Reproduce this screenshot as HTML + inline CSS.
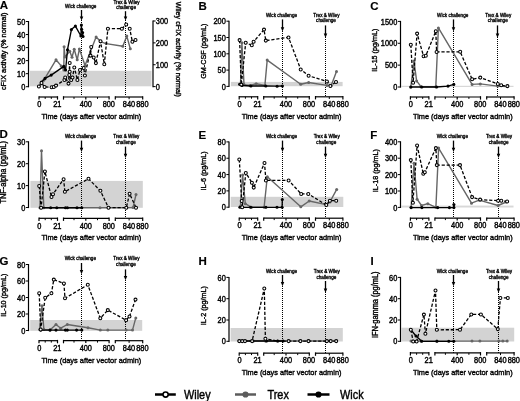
<!DOCTYPE html><html><head><meta charset="utf-8"><style>html,body{margin:0;padding:0;background:#fff;}svg{display:block;will-change:transform;}text{font-family:"Liberation Sans", sans-serif;stroke:#000;stroke-width:0.36px;paint-order:normal;}</style></head><body>
<svg width="520" height="401" viewBox="0 0 520 401">
<rect width="520" height="401" fill="#fff"/>
<rect x="29.9" y="70.8" width="121.6" height="15.5" fill="#d3d3d3"/>
<text transform="translate(80.7 6.6) scale(1 1.1)" font-size="4.65" text-anchor="middle" font-weight="normal" fill="#000" dominant-baseline="central" style="stroke-width:0.3px">Wick challenge</text>
<text transform="translate(126.5 2.1) scale(1 1.1)" font-size="4.65" text-anchor="middle" font-weight="normal" fill="#000" dominant-baseline="central" style="stroke-width:0.3px">Trex &amp; Wiley</text>
<text transform="translate(126.1 7.9) scale(1 1.1)" font-size="4.65" text-anchor="middle" font-weight="normal" fill="#000" dominant-baseline="central" style="stroke-width:0.3px">challenge</text>
<line x1="81.5" y1="10" x2="81.5" y2="17.6" stroke="#000" stroke-width="1.3"/>
<polygon points="79.75,16.4 83.25,16.4 81.5,20.6" fill="#000"/>
<line x1="125.5" y1="11.2" x2="125.5" y2="17.6" stroke="#000" stroke-width="1.3"/>
<polygon points="123.75,16.4 127.25,16.4 125.5,20.6" fill="#000"/>
<line x1="81.5" y1="20" x2="81.5" y2="96" stroke="#000" stroke-width="1" stroke-dasharray="1 1"/>
<line x1="125.5" y1="20" x2="125.5" y2="96" stroke="#000" stroke-width="1" stroke-dasharray="1 1"/>
<polyline points="43.7,80.3 56,59.8 61.2,65.9 63.8,70 64.1,46.7 65,57 69.7,51.2 72,57.2 74.2,49.3 77.2,59.8 79.4,49 85,65.5 96.1,37.1 100.9,41.8 106.2,43.6 122.8,46.2 126.8,36.1 130.3,48.8" fill="none" stroke="#666666" stroke-width="1.4" stroke-linejoin="round"/>
<circle cx="43.7" cy="80.3" r="1.5" fill="#666666" stroke="none" stroke-width="0"/>
<circle cx="56" cy="59.8" r="1.5" fill="#666666" stroke="none" stroke-width="0"/>
<circle cx="61.2" cy="65.9" r="1.5" fill="#666666" stroke="none" stroke-width="0"/>
<circle cx="63.8" cy="70" r="1.5" fill="#666666" stroke="none" stroke-width="0"/>
<circle cx="64.1" cy="46.7" r="1.5" fill="#666666" stroke="none" stroke-width="0"/>
<circle cx="65" cy="57" r="1.5" fill="#666666" stroke="none" stroke-width="0"/>
<circle cx="69.7" cy="51.2" r="1.5" fill="#666666" stroke="none" stroke-width="0"/>
<circle cx="72" cy="57.2" r="1.5" fill="#666666" stroke="none" stroke-width="0"/>
<circle cx="74.2" cy="49.3" r="1.5" fill="#666666" stroke="none" stroke-width="0"/>
<circle cx="77.2" cy="59.8" r="1.5" fill="#666666" stroke="none" stroke-width="0"/>
<circle cx="79.4" cy="49" r="1.5" fill="#666666" stroke="none" stroke-width="0"/>
<circle cx="85" cy="65.5" r="1.5" fill="#666666" stroke="none" stroke-width="0"/>
<circle cx="96.1" cy="37.1" r="1.5" fill="#666666" stroke="none" stroke-width="0"/>
<circle cx="100.9" cy="41.8" r="1.5" fill="#666666" stroke="none" stroke-width="0"/>
<circle cx="106.2" cy="43.6" r="1.5" fill="#666666" stroke="none" stroke-width="0"/>
<circle cx="122.8" cy="46.2" r="1.5" fill="#666666" stroke="none" stroke-width="0"/>
<circle cx="126.8" cy="36.1" r="1.5" fill="#666666" stroke="none" stroke-width="0"/>
<circle cx="130.3" cy="48.8" r="1.5" fill="#666666" stroke="none" stroke-width="0"/>
<polyline points="41.5,82.1 45,78.4 51.2,75.1 63.8,66.4 65.6,70 67.5,49.7 71.4,29.6 75.4,26.1 80.9,36 81.4,25.1 81.6,29.2 82.6,32.6 83,36.5 81.5,35.5" fill="none" stroke="#000" stroke-width="1.35" stroke-linejoin="round"/>
<circle cx="41.5" cy="82.1" r="1.55" fill="#000" stroke="none" stroke-width="0"/>
<circle cx="45" cy="78.4" r="1.55" fill="#000" stroke="none" stroke-width="0"/>
<circle cx="51.2" cy="75.1" r="1.55" fill="#000" stroke="none" stroke-width="0"/>
<circle cx="63.8" cy="66.4" r="1.55" fill="#000" stroke="none" stroke-width="0"/>
<circle cx="65.6" cy="70" r="1.55" fill="#000" stroke="none" stroke-width="0"/>
<circle cx="67.5" cy="49.7" r="1.55" fill="#000" stroke="none" stroke-width="0"/>
<circle cx="71.4" cy="29.6" r="1.55" fill="#000" stroke="none" stroke-width="0"/>
<circle cx="75.4" cy="26.1" r="1.55" fill="#000" stroke="none" stroke-width="0"/>
<circle cx="80.9" cy="36" r="1.55" fill="#000" stroke="none" stroke-width="0"/>
<circle cx="81.4" cy="25.1" r="1.55" fill="#000" stroke="none" stroke-width="0"/>
<circle cx="81.6" cy="29.2" r="1.55" fill="#000" stroke="none" stroke-width="0"/>
<circle cx="82.6" cy="32.6" r="1.55" fill="#000" stroke="none" stroke-width="0"/>
<circle cx="83" cy="36.5" r="1.55" fill="#000" stroke="none" stroke-width="0"/>
<circle cx="81.5" cy="35.5" r="1.55" fill="#000" stroke="none" stroke-width="0"/>
<polyline points="38.9,86.4 41.5,83 44.6,86.9 51.6,87.3 53.8,86.9 56,85.6 64.4,79.9 65.2,77.4 68.5,83.6 69.7,63 69.7,71.8 69.3,74.9 71.2,79.9 72.5,77.4 74.3,67.4 77.4,79.9 80,69.9 83.7,68 84.9,75.5 91.2,46.9 90.5,55.6 93.7,57.5 95.9,63.1 100.5,41.2 104.3,64.3 107.9,28.7 121.9,28.7 126.2,24.4 129.7,28.7 132.4,41.8 135.5,40" fill="none" stroke="#000" stroke-width="1.3" stroke-linejoin="round" stroke-dasharray="3.2 1.8"/>
<circle cx="38.9" cy="86.4" r="1.5" fill="#fff" stroke="#000" stroke-width="1.05"/>
<circle cx="41.5" cy="83" r="1.5" fill="#fff" stroke="#000" stroke-width="1.05"/>
<circle cx="44.6" cy="86.9" r="1.5" fill="#fff" stroke="#000" stroke-width="1.05"/>
<circle cx="51.6" cy="87.3" r="1.5" fill="#fff" stroke="#000" stroke-width="1.05"/>
<circle cx="53.8" cy="86.9" r="1.5" fill="#fff" stroke="#000" stroke-width="1.05"/>
<circle cx="56" cy="85.6" r="1.5" fill="#fff" stroke="#000" stroke-width="1.05"/>
<circle cx="64.4" cy="79.9" r="1.5" fill="#fff" stroke="#000" stroke-width="1.05"/>
<circle cx="65.2" cy="77.4" r="1.5" fill="#fff" stroke="#000" stroke-width="1.05"/>
<circle cx="68.5" cy="83.6" r="1.5" fill="#fff" stroke="#000" stroke-width="1.05"/>
<circle cx="69.7" cy="63" r="1.5" fill="#fff" stroke="#000" stroke-width="1.05"/>
<circle cx="69.7" cy="71.8" r="1.5" fill="#fff" stroke="#000" stroke-width="1.05"/>
<circle cx="69.3" cy="74.9" r="1.5" fill="#fff" stroke="#000" stroke-width="1.05"/>
<circle cx="71.2" cy="79.9" r="1.5" fill="#fff" stroke="#000" stroke-width="1.05"/>
<circle cx="72.5" cy="77.4" r="1.5" fill="#fff" stroke="#000" stroke-width="1.05"/>
<circle cx="74.3" cy="67.4" r="1.5" fill="#fff" stroke="#000" stroke-width="1.05"/>
<circle cx="77.4" cy="79.9" r="1.5" fill="#fff" stroke="#000" stroke-width="1.05"/>
<circle cx="80" cy="69.9" r="1.5" fill="#fff" stroke="#000" stroke-width="1.05"/>
<circle cx="83.7" cy="68" r="1.5" fill="#fff" stroke="#000" stroke-width="1.05"/>
<circle cx="84.9" cy="75.5" r="1.5" fill="#fff" stroke="#000" stroke-width="1.05"/>
<circle cx="91.2" cy="46.9" r="1.5" fill="#fff" stroke="#000" stroke-width="1.05"/>
<circle cx="90.5" cy="55.6" r="1.5" fill="#fff" stroke="#000" stroke-width="1.05"/>
<circle cx="93.7" cy="57.5" r="1.5" fill="#fff" stroke="#000" stroke-width="1.05"/>
<circle cx="95.9" cy="63.1" r="1.5" fill="#fff" stroke="#000" stroke-width="1.05"/>
<circle cx="100.5" cy="41.2" r="1.5" fill="#fff" stroke="#000" stroke-width="1.05"/>
<circle cx="104.3" cy="64.3" r="1.5" fill="#fff" stroke="#000" stroke-width="1.05"/>
<circle cx="107.9" cy="28.7" r="1.5" fill="#fff" stroke="#000" stroke-width="1.05"/>
<circle cx="121.9" cy="28.7" r="1.5" fill="#fff" stroke="#000" stroke-width="1.05"/>
<circle cx="126.2" cy="24.4" r="1.5" fill="#fff" stroke="#000" stroke-width="1.05"/>
<circle cx="129.7" cy="28.7" r="1.5" fill="#fff" stroke="#000" stroke-width="1.05"/>
<circle cx="132.4" cy="41.8" r="1.5" fill="#fff" stroke="#000" stroke-width="1.05"/>
<circle cx="135.5" cy="40" r="1.5" fill="#fff" stroke="#000" stroke-width="1.05"/>
<line x1="28.5" y1="21" x2="28.5" y2="87.3" stroke="#000" stroke-width="1.2"/>
<line x1="25.9" y1="86.7" x2="28.5" y2="86.7" stroke="#000" stroke-width="1"/>
<text transform="translate(25.3 87.2) scale(1 1.1)" font-size="7.4" text-anchor="end" font-weight="normal" fill="#000" dominant-baseline="central">0</text>
<line x1="25.9" y1="73.66" x2="28.5" y2="73.66" stroke="#000" stroke-width="1"/>
<text transform="translate(25.3 74.16) scale(1 1.1)" font-size="7.4" text-anchor="end" font-weight="normal" fill="#000" dominant-baseline="central">10</text>
<line x1="25.9" y1="60.62" x2="28.5" y2="60.62" stroke="#000" stroke-width="1"/>
<text transform="translate(25.3 61.12) scale(1 1.1)" font-size="7.4" text-anchor="end" font-weight="normal" fill="#000" dominant-baseline="central">20</text>
<line x1="25.9" y1="47.58" x2="28.5" y2="47.58" stroke="#000" stroke-width="1"/>
<text transform="translate(25.3 48.08) scale(1 1.1)" font-size="7.4" text-anchor="end" font-weight="normal" fill="#000" dominant-baseline="central">30</text>
<line x1="25.9" y1="34.54" x2="28.5" y2="34.54" stroke="#000" stroke-width="1"/>
<text transform="translate(25.3 35.04) scale(1 1.1)" font-size="7.4" text-anchor="end" font-weight="normal" fill="#000" dominant-baseline="central">40</text>
<line x1="25.9" y1="21.5" x2="28.5" y2="21.5" stroke="#000" stroke-width="1"/>
<text transform="translate(25.3 22) scale(1 1.1)" font-size="7.4" text-anchor="end" font-weight="normal" fill="#000" dominant-baseline="central">50</text>
<line x1="153" y1="20.5" x2="153" y2="87.2" stroke="#000" stroke-width="1.2"/>
<line x1="153" y1="86.6" x2="155.6" y2="86.6" stroke="#000" stroke-width="1"/>
<text transform="translate(155.8 87) scale(1 1.1)" font-size="7.4" text-anchor="start" font-weight="normal" fill="#000" dominant-baseline="central">0</text>
<line x1="153" y1="64.73" x2="155.6" y2="64.73" stroke="#000" stroke-width="1"/>
<text transform="translate(155.8 65.13) scale(1 1.1)" font-size="7.4" text-anchor="start" font-weight="normal" fill="#000" dominant-baseline="central">100</text>
<line x1="153" y1="42.87" x2="155.6" y2="42.87" stroke="#000" stroke-width="1"/>
<text transform="translate(155.8 43.27) scale(1 1.1)" font-size="7.4" text-anchor="start" font-weight="normal" fill="#000" dominant-baseline="central">200</text>
<line x1="153" y1="21" x2="155.6" y2="21" stroke="#000" stroke-width="1"/>
<text transform="translate(155.8 21.4) scale(1 1.1)" font-size="7.4" text-anchor="start" font-weight="normal" fill="#000" dominant-baseline="central">300</text>
<line x1="39" y1="97" x2="57.5" y2="97" stroke="#000" stroke-width="1.2"/>
<line x1="39" y1="96.2" x2="39" y2="99.6" stroke="#000" stroke-width="1.2"/>
<line x1="57.5" y1="96.2" x2="57.5" y2="99.6" stroke="#000" stroke-width="1.2"/>
<line x1="45.2" y1="97" x2="45.2" y2="98.9" stroke="#000" stroke-width="1"/>
<line x1="51.3" y1="97" x2="51.3" y2="98.9" stroke="#000" stroke-width="1"/>
<line x1="63.5" y1="97" x2="109.1" y2="97" stroke="#000" stroke-width="1.2"/>
<line x1="63.5" y1="96.2" x2="63.5" y2="99.6" stroke="#000" stroke-width="1.2"/>
<line x1="109.1" y1="96.2" x2="109.1" y2="99.6" stroke="#000" stroke-width="1.2"/>
<line x1="74" y1="97" x2="74" y2="98.9" stroke="#000" stroke-width="1"/>
<line x1="97.5" y1="97" x2="97.5" y2="98.9" stroke="#000" stroke-width="1"/>
<line x1="85.8" y1="97" x2="85.8" y2="99.4" stroke="#000" stroke-width="1.2"/>
<line x1="115.3" y1="97" x2="142.7" y2="97" stroke="#000" stroke-width="1.2"/>
<line x1="115.3" y1="96.2" x2="115.3" y2="99.6" stroke="#000" stroke-width="1.2"/>
<line x1="142.7" y1="96.2" x2="142.7" y2="99.6" stroke="#000" stroke-width="1.2"/>
<line x1="129.1" y1="97" x2="129.1" y2="99.2" stroke="#000" stroke-width="1"/>
<text transform="translate(39.4 104.6) scale(1 1.1)" font-size="7.4" text-anchor="middle" font-weight="normal" fill="#000" dominant-baseline="central">0</text>
<text transform="translate(57.3 104.6) scale(1 1.1)" font-size="7.4" text-anchor="middle" font-weight="normal" fill="#000" dominant-baseline="central">21</text>
<text transform="translate(85.8 104.6) scale(1 1.1)" font-size="7.4" text-anchor="middle" font-weight="normal" fill="#000" dominant-baseline="central">400</text>
<text transform="translate(108.8 104.6) scale(1 1.1)" font-size="7.4" text-anchor="middle" font-weight="normal" fill="#000" dominant-baseline="central">800</text>
<text transform="translate(129 104.6) scale(1 1.1)" font-size="7.4" text-anchor="middle" font-weight="normal" fill="#000" dominant-baseline="central">840</text>
<text transform="translate(142.4 104.6) scale(1 1.1)" font-size="7.4" text-anchor="middle" font-weight="normal" fill="#000" dominant-baseline="central">880</text>
<text transform="translate(91.4 116.3) scale(1 1.1)" font-size="7.38" text-anchor="middle" font-weight="normal" fill="#000" dominant-baseline="central">Time (days after vector admin)</text>
<text transform="translate(3.6 51.3) rotate(-90) scale(1 1.1)" font-size="7.35" text-anchor="middle" font-weight="normal" fill="#000" dominant-baseline="central" style="stroke-width:0.34px">cFIX activity (% normal)</text>
<text transform="translate(178.2 49.3) rotate(90) scale(1 1.1)" font-size="7.2" text-anchor="middle" font-weight="normal" fill="#000" dominant-baseline="central" style="stroke-width:0.34px">Wiley cFIX activity (% normal)</text>
<text x="-0.3" y="8.7" font-size="11.5" font-weight="bold" fill="#000" style="stroke-width:0.15px">A</text>
<rect x="230.9" y="81.9" width="111.7" height="4.3" fill="#d3d3d3"/>
<text transform="translate(281.5 15.6) scale(1 1.1)" font-size="4.65" text-anchor="middle" font-weight="normal" fill="#000" dominant-baseline="central" style="stroke-width:0.3px">Wick challenge</text>
<text transform="translate(326.4 15.1) scale(1 1.1)" font-size="4.65" text-anchor="middle" font-weight="normal" fill="#000" dominant-baseline="central" style="stroke-width:0.3px">Trex &amp; Wiley</text>
<text transform="translate(326 20.9) scale(1 1.1)" font-size="4.65" text-anchor="middle" font-weight="normal" fill="#000" dominant-baseline="central" style="stroke-width:0.3px">challenge</text>
<line x1="282.5" y1="19.4" x2="282.5" y2="28.5" stroke="#000" stroke-width="1.3"/>
<polygon points="280.75,27.3 284.25,27.3 282.5,31.5" fill="#000"/>
<line x1="325.5" y1="25.4" x2="325.5" y2="34.7" stroke="#000" stroke-width="1.3"/>
<polygon points="323.75,33.5 327.25,33.5 325.5,37.7" fill="#000"/>
<line x1="282.5" y1="31" x2="282.5" y2="96" stroke="#000" stroke-width="1" stroke-dasharray="1 1"/>
<line x1="325.5" y1="37" x2="325.5" y2="96" stroke="#000" stroke-width="1" stroke-dasharray="1 1"/>
<polyline points="240.5,84.6 241.9,42.7 244,84.6 250,85.5 256.2,83.7 264.9,85.4 267.2,60.1 300.7,84.2 308.6,82.5 326.9,85.4 331.2,85.4 336.5,71.5" fill="none" stroke="#666666" stroke-width="1.4" stroke-linejoin="round"/>
<circle cx="240.5" cy="84.6" r="1.5" fill="#666666" stroke="none" stroke-width="0"/>
<circle cx="241.9" cy="42.7" r="1.5" fill="#666666" stroke="none" stroke-width="0"/>
<circle cx="244" cy="84.6" r="1.5" fill="#666666" stroke="none" stroke-width="0"/>
<circle cx="250" cy="85.5" r="1.5" fill="#666666" stroke="none" stroke-width="0"/>
<circle cx="256.2" cy="83.7" r="1.5" fill="#666666" stroke="none" stroke-width="0"/>
<circle cx="264.9" cy="85.4" r="1.5" fill="#666666" stroke="none" stroke-width="0"/>
<circle cx="267.2" cy="60.1" r="1.5" fill="#666666" stroke="none" stroke-width="0"/>
<circle cx="300.7" cy="84.2" r="1.5" fill="#666666" stroke="none" stroke-width="0"/>
<circle cx="308.6" cy="82.5" r="1.5" fill="#666666" stroke="none" stroke-width="0"/>
<circle cx="326.9" cy="85.4" r="1.5" fill="#666666" stroke="none" stroke-width="0"/>
<circle cx="331.2" cy="85.4" r="1.5" fill="#666666" stroke="none" stroke-width="0"/>
<circle cx="336.5" cy="71.5" r="1.5" fill="#666666" stroke="none" stroke-width="0"/>
<polyline points="239.6,84.2 242,85.5 250.9,86 265.8,86 277.1,86.2 282.4,86" fill="none" stroke="#000" stroke-width="1.35" stroke-linejoin="round"/>
<circle cx="239.6" cy="84.2" r="1.55" fill="#000" stroke="none" stroke-width="0"/>
<circle cx="242" cy="85.5" r="1.55" fill="#000" stroke="none" stroke-width="0"/>
<circle cx="250.9" cy="86" r="1.55" fill="#000" stroke="none" stroke-width="0"/>
<circle cx="265.8" cy="86" r="1.55" fill="#000" stroke="none" stroke-width="0"/>
<circle cx="277.1" cy="86.2" r="1.55" fill="#000" stroke="none" stroke-width="0"/>
<circle cx="282.4" cy="86" r="1.55" fill="#000" stroke="none" stroke-width="0"/>
<polyline points="239.6,40.1 241.3,84.6 245.7,42.7 251.8,45.3 253.6,41.8 264,29.6 265.8,40.6 288.5,37.4 300.7,69.4 308.6,75.8 326.9,81.4 330.4,86 336,82" fill="none" stroke="#000" stroke-width="1.3" stroke-linejoin="round" stroke-dasharray="3.2 1.8"/>
<circle cx="239.6" cy="40.1" r="1.5" fill="#fff" stroke="#000" stroke-width="1.05"/>
<circle cx="241.3" cy="84.6" r="1.5" fill="#fff" stroke="#000" stroke-width="1.05"/>
<circle cx="245.7" cy="42.7" r="1.5" fill="#fff" stroke="#000" stroke-width="1.05"/>
<circle cx="251.8" cy="45.3" r="1.5" fill="#fff" stroke="#000" stroke-width="1.05"/>
<circle cx="253.6" cy="41.8" r="1.5" fill="#fff" stroke="#000" stroke-width="1.05"/>
<circle cx="264" cy="29.6" r="1.5" fill="#fff" stroke="#000" stroke-width="1.05"/>
<circle cx="265.8" cy="40.6" r="1.5" fill="#fff" stroke="#000" stroke-width="1.05"/>
<circle cx="288.5" cy="37.4" r="1.5" fill="#fff" stroke="#000" stroke-width="1.05"/>
<circle cx="300.7" cy="69.4" r="1.5" fill="#fff" stroke="#000" stroke-width="1.05"/>
<circle cx="308.6" cy="75.8" r="1.5" fill="#fff" stroke="#000" stroke-width="1.05"/>
<circle cx="326.9" cy="81.4" r="1.5" fill="#fff" stroke="#000" stroke-width="1.05"/>
<circle cx="330.4" cy="86" r="1.5" fill="#fff" stroke="#000" stroke-width="1.05"/>
<circle cx="336" cy="82" r="1.5" fill="#fff" stroke="#000" stroke-width="1.05"/>
<line x1="229" y1="20.7" x2="229" y2="87" stroke="#000" stroke-width="1.2"/>
<line x1="226.4" y1="86.4" x2="229" y2="86.4" stroke="#000" stroke-width="1"/>
<text transform="translate(225.8 86.9) scale(1 1.1)" font-size="7.4" text-anchor="end" font-weight="normal" fill="#000" dominant-baseline="central">0</text>
<line x1="226.4" y1="70.1" x2="229" y2="70.1" stroke="#000" stroke-width="1"/>
<text transform="translate(225.8 70.6) scale(1 1.1)" font-size="7.4" text-anchor="end" font-weight="normal" fill="#000" dominant-baseline="central">50</text>
<line x1="226.4" y1="53.8" x2="229" y2="53.8" stroke="#000" stroke-width="1"/>
<text transform="translate(225.8 54.3) scale(1 1.1)" font-size="7.4" text-anchor="end" font-weight="normal" fill="#000" dominant-baseline="central">100</text>
<line x1="226.4" y1="37.5" x2="229" y2="37.5" stroke="#000" stroke-width="1"/>
<text transform="translate(225.8 38) scale(1 1.1)" font-size="7.4" text-anchor="end" font-weight="normal" fill="#000" dominant-baseline="central">150</text>
<line x1="226.4" y1="21.2" x2="229" y2="21.2" stroke="#000" stroke-width="1"/>
<text transform="translate(225.8 21.7) scale(1 1.1)" font-size="7.4" text-anchor="end" font-weight="normal" fill="#000" dominant-baseline="central">200</text>
<line x1="239.2" y1="96.8" x2="257.7" y2="96.8" stroke="#000" stroke-width="1.2"/>
<line x1="239.2" y1="96" x2="239.2" y2="99.4" stroke="#000" stroke-width="1.2"/>
<line x1="257.7" y1="96" x2="257.7" y2="99.4" stroke="#000" stroke-width="1.2"/>
<line x1="245.4" y1="96.8" x2="245.4" y2="98.7" stroke="#000" stroke-width="1"/>
<line x1="251.5" y1="96.8" x2="251.5" y2="98.7" stroke="#000" stroke-width="1"/>
<line x1="263.7" y1="96.8" x2="309.3" y2="96.8" stroke="#000" stroke-width="1.2"/>
<line x1="263.7" y1="96" x2="263.7" y2="99.4" stroke="#000" stroke-width="1.2"/>
<line x1="309.3" y1="96" x2="309.3" y2="99.4" stroke="#000" stroke-width="1.2"/>
<line x1="274.2" y1="96.8" x2="274.2" y2="98.7" stroke="#000" stroke-width="1"/>
<line x1="297.7" y1="96.8" x2="297.7" y2="98.7" stroke="#000" stroke-width="1"/>
<line x1="286" y1="96.8" x2="286" y2="99.2" stroke="#000" stroke-width="1.2"/>
<line x1="315.5" y1="96.8" x2="342.9" y2="96.8" stroke="#000" stroke-width="1.2"/>
<line x1="315.5" y1="96" x2="315.5" y2="99.4" stroke="#000" stroke-width="1.2"/>
<line x1="342.9" y1="96" x2="342.9" y2="99.4" stroke="#000" stroke-width="1.2"/>
<line x1="329.3" y1="96.8" x2="329.3" y2="99" stroke="#000" stroke-width="1"/>
<text transform="translate(239.6 104.4) scale(1 1.1)" font-size="7.4" text-anchor="middle" font-weight="normal" fill="#000" dominant-baseline="central">0</text>
<text transform="translate(257.5 104.4) scale(1 1.1)" font-size="7.4" text-anchor="middle" font-weight="normal" fill="#000" dominant-baseline="central">21</text>
<text transform="translate(286 104.4) scale(1 1.1)" font-size="7.4" text-anchor="middle" font-weight="normal" fill="#000" dominant-baseline="central">400</text>
<text transform="translate(309 104.4) scale(1 1.1)" font-size="7.4" text-anchor="middle" font-weight="normal" fill="#000" dominant-baseline="central">800</text>
<text transform="translate(329.2 104.4) scale(1 1.1)" font-size="7.4" text-anchor="middle" font-weight="normal" fill="#000" dominant-baseline="central">840</text>
<text transform="translate(342.6 104.4) scale(1 1.1)" font-size="7.4" text-anchor="middle" font-weight="normal" fill="#000" dominant-baseline="central">880</text>
<text transform="translate(291.6 116.1) scale(1 1.1)" font-size="7.38" text-anchor="middle" font-weight="normal" fill="#000" dominant-baseline="central">Time (days after vector admin)</text>
<text transform="translate(202.9 51.2) rotate(-90) scale(1 1.1)" font-size="7.2" text-anchor="middle" font-weight="normal" fill="#000" dominant-baseline="central" style="stroke-width:0.34px">GM-CSF (pg/mL)</text>
<text x="198.6" y="9.5" font-size="11.5" font-weight="bold" fill="#000" style="stroke-width:0.15px">B</text>
<rect x="401.5" y="85.8" width="112" height="1.2" fill="#d8d8d8"/>
<text transform="translate(452.7 15.6) scale(1 1.1)" font-size="4.65" text-anchor="middle" font-weight="normal" fill="#000" dominant-baseline="central" style="stroke-width:0.3px">Wick challenge</text>
<text transform="translate(498.2 15.1) scale(1 1.1)" font-size="4.65" text-anchor="middle" font-weight="normal" fill="#000" dominant-baseline="central" style="stroke-width:0.3px">Trex &amp; Wiley</text>
<text transform="translate(497.8 20.9) scale(1 1.1)" font-size="4.65" text-anchor="middle" font-weight="normal" fill="#000" dominant-baseline="central" style="stroke-width:0.3px">challenge</text>
<line x1="453.5" y1="19.4" x2="453.5" y2="28.5" stroke="#000" stroke-width="1.3"/>
<polygon points="451.75,27.3 455.25,27.3 453.5,31.5" fill="#000"/>
<line x1="497.5" y1="25.4" x2="497.5" y2="34.7" stroke="#000" stroke-width="1.3"/>
<polygon points="495.75,33.5 499.25,33.5 497.5,37.7" fill="#000"/>
<line x1="453.5" y1="31" x2="453.5" y2="96" stroke="#000" stroke-width="1" stroke-dasharray="1 1"/>
<line x1="497.5" y1="37" x2="497.5" y2="96" stroke="#000" stroke-width="1" stroke-dasharray="1 1"/>
<polyline points="410.8,87 414,61 416.6,80.9 421,86.7 435.8,86.7 438.4,27.9 472.1,84.4 480.3,83.9 497.8,86.1 507.4,86.5" fill="none" stroke="#666666" stroke-width="1.4" stroke-linejoin="round"/>
<circle cx="410.8" cy="87" r="1.5" fill="#666666" stroke="none" stroke-width="0"/>
<circle cx="414" cy="61" r="1.5" fill="#666666" stroke="none" stroke-width="0"/>
<circle cx="416.6" cy="80.9" r="1.5" fill="#666666" stroke="none" stroke-width="0"/>
<circle cx="421" cy="86.7" r="1.5" fill="#666666" stroke="none" stroke-width="0"/>
<circle cx="435.8" cy="86.7" r="1.5" fill="#666666" stroke="none" stroke-width="0"/>
<circle cx="438.4" cy="27.9" r="1.5" fill="#666666" stroke="none" stroke-width="0"/>
<circle cx="472.1" cy="84.4" r="1.5" fill="#666666" stroke="none" stroke-width="0"/>
<circle cx="480.3" cy="83.9" r="1.5" fill="#666666" stroke="none" stroke-width="0"/>
<circle cx="497.8" cy="86.1" r="1.5" fill="#666666" stroke="none" stroke-width="0"/>
<circle cx="507.4" cy="86.5" r="1.5" fill="#666666" stroke="none" stroke-width="0"/>
<polyline points="410.8,87 421.8,87 436.6,87 448,86.1 453.8,84.4" fill="none" stroke="#000" stroke-width="1.35" stroke-linejoin="round"/>
<circle cx="410.8" cy="87" r="1.55" fill="#000" stroke="none" stroke-width="0"/>
<circle cx="421.8" cy="87" r="1.55" fill="#000" stroke="none" stroke-width="0"/>
<circle cx="436.6" cy="87" r="1.55" fill="#000" stroke="none" stroke-width="0"/>
<circle cx="448" cy="86.1" r="1.55" fill="#000" stroke="none" stroke-width="0"/>
<circle cx="453.8" cy="84.4" r="1.55" fill="#000" stroke="none" stroke-width="0"/>
<polyline points="410.8,44.8 413.1,82.7 417.1,33.6 423.6,56.3 425.8,55.8 435.8,31.3 436.6,51.9 460.2,51.8 472.1,79.3 480.3,77.6 497.8,83.9 501.2,85.3 507.4,86.1" fill="none" stroke="#000" stroke-width="1.3" stroke-linejoin="round" stroke-dasharray="3.2 1.8"/>
<circle cx="410.8" cy="44.8" r="1.5" fill="#fff" stroke="#000" stroke-width="1.05"/>
<circle cx="413.1" cy="82.7" r="1.5" fill="#fff" stroke="#000" stroke-width="1.05"/>
<circle cx="417.1" cy="33.6" r="1.5" fill="#fff" stroke="#000" stroke-width="1.05"/>
<circle cx="423.6" cy="56.3" r="1.5" fill="#fff" stroke="#000" stroke-width="1.05"/>
<circle cx="425.8" cy="55.8" r="1.5" fill="#fff" stroke="#000" stroke-width="1.05"/>
<circle cx="435.8" cy="31.3" r="1.5" fill="#fff" stroke="#000" stroke-width="1.05"/>
<circle cx="436.6" cy="51.9" r="1.5" fill="#fff" stroke="#000" stroke-width="1.05"/>
<circle cx="460.2" cy="51.8" r="1.5" fill="#fff" stroke="#000" stroke-width="1.05"/>
<circle cx="472.1" cy="79.3" r="1.5" fill="#fff" stroke="#000" stroke-width="1.05"/>
<circle cx="480.3" cy="77.6" r="1.5" fill="#fff" stroke="#000" stroke-width="1.05"/>
<circle cx="497.8" cy="83.9" r="1.5" fill="#fff" stroke="#000" stroke-width="1.05"/>
<circle cx="501.2" cy="85.3" r="1.5" fill="#fff" stroke="#000" stroke-width="1.05"/>
<circle cx="507.4" cy="86.1" r="1.5" fill="#fff" stroke="#000" stroke-width="1.05"/>
<line x1="400.5" y1="20.9" x2="400.5" y2="87.6" stroke="#000" stroke-width="1.2"/>
<line x1="397.9" y1="87" x2="400.5" y2="87" stroke="#000" stroke-width="1"/>
<text transform="translate(397.3 87.5) scale(1 1.1)" font-size="7.4" text-anchor="end" font-weight="normal" fill="#000" dominant-baseline="central">0</text>
<line x1="397.9" y1="65.13" x2="400.5" y2="65.13" stroke="#000" stroke-width="1"/>
<text transform="translate(397.3 65.63) scale(1 1.1)" font-size="7.4" text-anchor="end" font-weight="normal" fill="#000" dominant-baseline="central">500</text>
<line x1="397.9" y1="43.27" x2="400.5" y2="43.27" stroke="#000" stroke-width="1"/>
<text transform="translate(397.3 43.77) scale(1 1.1)" font-size="7.4" text-anchor="end" font-weight="normal" fill="#000" dominant-baseline="central">1000</text>
<line x1="397.9" y1="21.4" x2="400.5" y2="21.4" stroke="#000" stroke-width="1"/>
<text transform="translate(397.3 21.9) scale(1 1.1)" font-size="7.4" text-anchor="end" font-weight="normal" fill="#000" dominant-baseline="central">1500</text>
<line x1="410.4" y1="97" x2="428.9" y2="97" stroke="#000" stroke-width="1.2"/>
<line x1="410.4" y1="96.2" x2="410.4" y2="99.6" stroke="#000" stroke-width="1.2"/>
<line x1="428.9" y1="96.2" x2="428.9" y2="99.6" stroke="#000" stroke-width="1.2"/>
<line x1="416.6" y1="97" x2="416.6" y2="98.9" stroke="#000" stroke-width="1"/>
<line x1="422.7" y1="97" x2="422.7" y2="98.9" stroke="#000" stroke-width="1"/>
<line x1="434.9" y1="97" x2="480.5" y2="97" stroke="#000" stroke-width="1.2"/>
<line x1="434.9" y1="96.2" x2="434.9" y2="99.6" stroke="#000" stroke-width="1.2"/>
<line x1="480.5" y1="96.2" x2="480.5" y2="99.6" stroke="#000" stroke-width="1.2"/>
<line x1="445.4" y1="97" x2="445.4" y2="98.9" stroke="#000" stroke-width="1"/>
<line x1="468.9" y1="97" x2="468.9" y2="98.9" stroke="#000" stroke-width="1"/>
<line x1="457.2" y1="97" x2="457.2" y2="99.4" stroke="#000" stroke-width="1.2"/>
<line x1="486.7" y1="97" x2="514.1" y2="97" stroke="#000" stroke-width="1.2"/>
<line x1="486.7" y1="96.2" x2="486.7" y2="99.6" stroke="#000" stroke-width="1.2"/>
<line x1="514.1" y1="96.2" x2="514.1" y2="99.6" stroke="#000" stroke-width="1.2"/>
<line x1="500.5" y1="97" x2="500.5" y2="99.2" stroke="#000" stroke-width="1"/>
<text transform="translate(410.8 104.6) scale(1 1.1)" font-size="7.4" text-anchor="middle" font-weight="normal" fill="#000" dominant-baseline="central">0</text>
<text transform="translate(428.7 104.6) scale(1 1.1)" font-size="7.4" text-anchor="middle" font-weight="normal" fill="#000" dominant-baseline="central">21</text>
<text transform="translate(457.2 104.6) scale(1 1.1)" font-size="7.4" text-anchor="middle" font-weight="normal" fill="#000" dominant-baseline="central">400</text>
<text transform="translate(480.2 104.6) scale(1 1.1)" font-size="7.4" text-anchor="middle" font-weight="normal" fill="#000" dominant-baseline="central">800</text>
<text transform="translate(500.4 104.6) scale(1 1.1)" font-size="7.4" text-anchor="middle" font-weight="normal" fill="#000" dominant-baseline="central">840</text>
<text transform="translate(513.8 104.6) scale(1 1.1)" font-size="7.4" text-anchor="middle" font-weight="normal" fill="#000" dominant-baseline="central">880</text>
<text transform="translate(462.8 116.3) scale(1 1.1)" font-size="7.38" text-anchor="middle" font-weight="normal" fill="#000" dominant-baseline="central">Time (days after vector admin)</text>
<text transform="translate(373.9 50.2) rotate(-90) scale(1 1.1)" font-size="7.2" text-anchor="middle" font-weight="normal" fill="#000" dominant-baseline="central" style="stroke-width:0.34px">IL-15 (pg/mL)</text>
<text x="370.3" y="9.5" font-size="11.5" font-weight="bold" fill="#000" style="stroke-width:0.15px">C</text>
<rect x="30.4" y="180.9" width="112.4" height="26.9" fill="#d3d3d3"/>
<text transform="translate(80.5 136.8) scale(1 1.1)" font-size="4.65" text-anchor="middle" font-weight="normal" fill="#000" dominant-baseline="central" style="stroke-width:0.3px">Wick challenge</text>
<text transform="translate(126.3 136.8) scale(1 1.1)" font-size="4.65" text-anchor="middle" font-weight="normal" fill="#000" dominant-baseline="central" style="stroke-width:0.3px">Trex &amp; Wiley</text>
<text transform="translate(125.9 142.6) scale(1 1.1)" font-size="4.65" text-anchor="middle" font-weight="normal" fill="#000" dominant-baseline="central" style="stroke-width:0.3px">challenge</text>
<line x1="81.5" y1="140.6" x2="81.5" y2="149" stroke="#000" stroke-width="1.3"/>
<polygon points="79.75,147.8 83.25,147.8 81.5,152" fill="#000"/>
<line x1="125.5" y1="146.6" x2="125.5" y2="155" stroke="#000" stroke-width="1.3"/>
<polygon points="123.75,153.8 127.25,153.8 125.5,158" fill="#000"/>
<line x1="81.5" y1="152" x2="81.5" y2="218" stroke="#000" stroke-width="1" stroke-dasharray="1 1"/>
<line x1="125.5" y1="158" x2="125.5" y2="218" stroke="#000" stroke-width="1" stroke-dasharray="1 1"/>
<polyline points="39.9,207.7 41.5,150.8 43.8,207.7 100,207.7 108.5,207.7 126.3,207.7 133,207.5 136,194.6" fill="none" stroke="#666666" stroke-width="1.4" stroke-linejoin="round"/>
<circle cx="39.9" cy="207.7" r="1.5" fill="#666666" stroke="none" stroke-width="0"/>
<circle cx="41.5" cy="150.8" r="1.5" fill="#666666" stroke="none" stroke-width="0"/>
<circle cx="43.8" cy="207.7" r="1.5" fill="#666666" stroke="none" stroke-width="0"/>
<circle cx="100" cy="207.7" r="1.5" fill="#666666" stroke="none" stroke-width="0"/>
<circle cx="108.5" cy="207.7" r="1.5" fill="#666666" stroke="none" stroke-width="0"/>
<circle cx="126.3" cy="207.7" r="1.5" fill="#666666" stroke="none" stroke-width="0"/>
<circle cx="133" cy="207.5" r="1.5" fill="#666666" stroke="none" stroke-width="0"/>
<circle cx="136" cy="194.6" r="1.5" fill="#666666" stroke="none" stroke-width="0"/>
<polyline points="41,207.7 50.7,207.7 56.8,207.7 65.5,207.7 67.4,207.7 77,207.7 81.8,207.7" fill="none" stroke="#000" stroke-width="1.35" stroke-linejoin="round"/>
<circle cx="41" cy="207.7" r="1.55" fill="#000" stroke="none" stroke-width="0"/>
<circle cx="50.7" cy="207.7" r="1.55" fill="#000" stroke="none" stroke-width="0"/>
<circle cx="56.8" cy="207.7" r="1.55" fill="#000" stroke="none" stroke-width="0"/>
<circle cx="65.5" cy="207.7" r="1.55" fill="#000" stroke="none" stroke-width="0"/>
<circle cx="67.4" cy="207.7" r="1.55" fill="#000" stroke="none" stroke-width="0"/>
<circle cx="77" cy="207.7" r="1.55" fill="#000" stroke="none" stroke-width="0"/>
<circle cx="81.8" cy="207.7" r="1.55" fill="#000" stroke="none" stroke-width="0"/>
<polyline points="39.2,186 41.1,207.7 44.9,171.5 51.5,196.9 53,194.2 63.6,179.2 64.9,191.7 88.5,178.8 100.4,190.8 108.5,207.7 126.3,207.7 129.6,193.7 136,207.7" fill="none" stroke="#000" stroke-width="1.3" stroke-linejoin="round" stroke-dasharray="3.2 1.8"/>
<circle cx="39.2" cy="186" r="1.5" fill="#fff" stroke="#000" stroke-width="1.05"/>
<circle cx="41.1" cy="207.7" r="1.5" fill="#fff" stroke="#000" stroke-width="1.05"/>
<circle cx="44.9" cy="171.5" r="1.5" fill="#fff" stroke="#000" stroke-width="1.05"/>
<circle cx="51.5" cy="196.9" r="1.5" fill="#fff" stroke="#000" stroke-width="1.05"/>
<circle cx="53" cy="194.2" r="1.5" fill="#fff" stroke="#000" stroke-width="1.05"/>
<circle cx="63.6" cy="179.2" r="1.5" fill="#fff" stroke="#000" stroke-width="1.05"/>
<circle cx="64.9" cy="191.7" r="1.5" fill="#fff" stroke="#000" stroke-width="1.05"/>
<circle cx="88.5" cy="178.8" r="1.5" fill="#fff" stroke="#000" stroke-width="1.05"/>
<circle cx="100.4" cy="190.8" r="1.5" fill="#fff" stroke="#000" stroke-width="1.05"/>
<circle cx="108.5" cy="207.7" r="1.5" fill="#fff" stroke="#000" stroke-width="1.05"/>
<circle cx="126.3" cy="207.7" r="1.5" fill="#fff" stroke="#000" stroke-width="1.05"/>
<circle cx="129.6" cy="193.7" r="1.5" fill="#fff" stroke="#000" stroke-width="1.05"/>
<circle cx="136" cy="207.7" r="1.5" fill="#fff" stroke="#000" stroke-width="1.05"/>
<line x1="28.5" y1="141.3" x2="28.5" y2="208.1" stroke="#000" stroke-width="1.2"/>
<line x1="25.9" y1="207.5" x2="28.5" y2="207.5" stroke="#000" stroke-width="1"/>
<text transform="translate(25.3 208) scale(1 1.1)" font-size="7.4" text-anchor="end" font-weight="normal" fill="#000" dominant-baseline="central">0</text>
<line x1="25.9" y1="185.6" x2="28.5" y2="185.6" stroke="#000" stroke-width="1"/>
<text transform="translate(25.3 186.1) scale(1 1.1)" font-size="7.4" text-anchor="end" font-weight="normal" fill="#000" dominant-baseline="central">10</text>
<line x1="25.9" y1="163.7" x2="28.5" y2="163.7" stroke="#000" stroke-width="1"/>
<text transform="translate(25.3 164.2) scale(1 1.1)" font-size="7.4" text-anchor="end" font-weight="normal" fill="#000" dominant-baseline="central">20</text>
<line x1="25.9" y1="141.8" x2="28.5" y2="141.8" stroke="#000" stroke-width="1"/>
<text transform="translate(25.3 142.3) scale(1 1.1)" font-size="7.4" text-anchor="end" font-weight="normal" fill="#000" dominant-baseline="central">30</text>
<line x1="39" y1="218.3" x2="57.5" y2="218.3" stroke="#000" stroke-width="1.2"/>
<line x1="39" y1="217.5" x2="39" y2="220.9" stroke="#000" stroke-width="1.2"/>
<line x1="57.5" y1="217.5" x2="57.5" y2="220.9" stroke="#000" stroke-width="1.2"/>
<line x1="45.2" y1="218.3" x2="45.2" y2="220.2" stroke="#000" stroke-width="1"/>
<line x1="51.3" y1="218.3" x2="51.3" y2="220.2" stroke="#000" stroke-width="1"/>
<line x1="63.5" y1="218.3" x2="109.1" y2="218.3" stroke="#000" stroke-width="1.2"/>
<line x1="63.5" y1="217.5" x2="63.5" y2="220.9" stroke="#000" stroke-width="1.2"/>
<line x1="109.1" y1="217.5" x2="109.1" y2="220.9" stroke="#000" stroke-width="1.2"/>
<line x1="74" y1="218.3" x2="74" y2="220.2" stroke="#000" stroke-width="1"/>
<line x1="97.5" y1="218.3" x2="97.5" y2="220.2" stroke="#000" stroke-width="1"/>
<line x1="85.8" y1="218.3" x2="85.8" y2="220.7" stroke="#000" stroke-width="1.2"/>
<line x1="115.3" y1="218.3" x2="142.7" y2="218.3" stroke="#000" stroke-width="1.2"/>
<line x1="115.3" y1="217.5" x2="115.3" y2="220.9" stroke="#000" stroke-width="1.2"/>
<line x1="142.7" y1="217.5" x2="142.7" y2="220.9" stroke="#000" stroke-width="1.2"/>
<line x1="129.1" y1="218.3" x2="129.1" y2="220.5" stroke="#000" stroke-width="1"/>
<text transform="translate(39.4 225.9) scale(1 1.1)" font-size="7.4" text-anchor="middle" font-weight="normal" fill="#000" dominant-baseline="central">0</text>
<text transform="translate(57.3 225.9) scale(1 1.1)" font-size="7.4" text-anchor="middle" font-weight="normal" fill="#000" dominant-baseline="central">21</text>
<text transform="translate(85.8 225.9) scale(1 1.1)" font-size="7.4" text-anchor="middle" font-weight="normal" fill="#000" dominant-baseline="central">400</text>
<text transform="translate(108.8 225.9) scale(1 1.1)" font-size="7.4" text-anchor="middle" font-weight="normal" fill="#000" dominant-baseline="central">800</text>
<text transform="translate(129 225.9) scale(1 1.1)" font-size="7.4" text-anchor="middle" font-weight="normal" fill="#000" dominant-baseline="central">840</text>
<text transform="translate(142.4 225.9) scale(1 1.1)" font-size="7.4" text-anchor="middle" font-weight="normal" fill="#000" dominant-baseline="central">880</text>
<text transform="translate(91.4 237.6) scale(1 1.1)" font-size="7.38" text-anchor="middle" font-weight="normal" fill="#000" dominant-baseline="central">Time (days after vector admin)</text>
<text transform="translate(3.4 172.3) rotate(-90) scale(1 1.1)" font-size="7.4" text-anchor="middle" font-weight="normal" fill="#000" dominant-baseline="central" style="stroke-width:0.34px">TNF-alpha (pg/mL)</text>
<text x="-0.6" y="138.3" font-size="11.5" font-weight="bold" fill="#000" style="stroke-width:0.15px">D</text>
<rect x="230.7" y="196.8" width="112.6" height="10.2" fill="#d3d3d3"/>
<text transform="translate(281.5 136.8) scale(1 1.1)" font-size="4.65" text-anchor="middle" font-weight="normal" fill="#000" dominant-baseline="central" style="stroke-width:0.3px">Wick challenge</text>
<text transform="translate(326.7 136.8) scale(1 1.1)" font-size="4.65" text-anchor="middle" font-weight="normal" fill="#000" dominant-baseline="central" style="stroke-width:0.3px">Trex &amp; Wiley</text>
<text transform="translate(326.3 142.6) scale(1 1.1)" font-size="4.65" text-anchor="middle" font-weight="normal" fill="#000" dominant-baseline="central" style="stroke-width:0.3px">challenge</text>
<line x1="282.5" y1="140.6" x2="282.5" y2="149" stroke="#000" stroke-width="1.3"/>
<polygon points="280.75,147.8 284.25,147.8 282.5,152" fill="#000"/>
<line x1="325.5" y1="146.6" x2="325.5" y2="155" stroke="#000" stroke-width="1.3"/>
<polygon points="323.75,153.8 327.25,153.8 325.5,158" fill="#000"/>
<line x1="282.5" y1="152" x2="282.5" y2="218" stroke="#000" stroke-width="1" stroke-dasharray="1 1"/>
<line x1="325.5" y1="158" x2="325.5" y2="218" stroke="#000" stroke-width="1" stroke-dasharray="1 1"/>
<polyline points="240.4,206.4 242.6,175 245.3,203.7 251.5,207.3 264.1,207.3 267.3,176.8 300.8,206.8 309.2,201 326.3,204.6 329.9,202 336.7,189.4" fill="none" stroke="#666666" stroke-width="1.4" stroke-linejoin="round"/>
<circle cx="240.4" cy="206.4" r="1.5" fill="#666666" stroke="none" stroke-width="0"/>
<circle cx="242.6" cy="175" r="1.5" fill="#666666" stroke="none" stroke-width="0"/>
<circle cx="245.3" cy="203.7" r="1.5" fill="#666666" stroke="none" stroke-width="0"/>
<circle cx="251.5" cy="207.3" r="1.5" fill="#666666" stroke="none" stroke-width="0"/>
<circle cx="264.1" cy="207.3" r="1.5" fill="#666666" stroke="none" stroke-width="0"/>
<circle cx="267.3" cy="176.8" r="1.5" fill="#666666" stroke="none" stroke-width="0"/>
<circle cx="300.8" cy="206.8" r="1.5" fill="#666666" stroke="none" stroke-width="0"/>
<circle cx="309.2" cy="201" r="1.5" fill="#666666" stroke="none" stroke-width="0"/>
<circle cx="326.3" cy="204.6" r="1.5" fill="#666666" stroke="none" stroke-width="0"/>
<circle cx="329.9" cy="202" r="1.5" fill="#666666" stroke="none" stroke-width="0"/>
<circle cx="336.7" cy="189.4" r="1.5" fill="#666666" stroke="none" stroke-width="0"/>
<polyline points="239.9,207.3 250.6,207.3 265.9,207.3 277,207.3 282.1,207.3 282.3,199.5" fill="none" stroke="#000" stroke-width="1.35" stroke-linejoin="round"/>
<circle cx="239.9" cy="207.3" r="1.55" fill="#000" stroke="none" stroke-width="0"/>
<circle cx="250.6" cy="207.3" r="1.55" fill="#000" stroke="none" stroke-width="0"/>
<circle cx="265.9" cy="207.3" r="1.55" fill="#000" stroke="none" stroke-width="0"/>
<circle cx="277" cy="207.3" r="1.55" fill="#000" stroke="none" stroke-width="0"/>
<circle cx="282.1" cy="207.3" r="1.55" fill="#000" stroke="none" stroke-width="0"/>
<circle cx="282.3" cy="199.5" r="1.55" fill="#000" stroke="none" stroke-width="0"/>
<polyline points="239.3,159.4 241.7,201 242.2,207.3 245.8,172.9 251.9,182.7 253.7,187.6 264.5,163 265.9,180.4 288.6,180.4 301.2,193.9 308.3,193.9 326.3,205 329.9,200.7 336.2,200.7" fill="none" stroke="#000" stroke-width="1.3" stroke-linejoin="round" stroke-dasharray="3.2 1.8"/>
<circle cx="239.3" cy="159.4" r="1.5" fill="#fff" stroke="#000" stroke-width="1.05"/>
<circle cx="241.7" cy="201" r="1.5" fill="#fff" stroke="#000" stroke-width="1.05"/>
<circle cx="242.2" cy="207.3" r="1.5" fill="#fff" stroke="#000" stroke-width="1.05"/>
<circle cx="245.8" cy="172.9" r="1.5" fill="#fff" stroke="#000" stroke-width="1.05"/>
<circle cx="251.9" cy="182.7" r="1.5" fill="#fff" stroke="#000" stroke-width="1.05"/>
<circle cx="253.7" cy="187.6" r="1.5" fill="#fff" stroke="#000" stroke-width="1.05"/>
<circle cx="264.5" cy="163" r="1.5" fill="#fff" stroke="#000" stroke-width="1.05"/>
<circle cx="265.9" cy="180.4" r="1.5" fill="#fff" stroke="#000" stroke-width="1.05"/>
<circle cx="288.6" cy="180.4" r="1.5" fill="#fff" stroke="#000" stroke-width="1.05"/>
<circle cx="301.2" cy="193.9" r="1.5" fill="#fff" stroke="#000" stroke-width="1.05"/>
<circle cx="308.3" cy="193.9" r="1.5" fill="#fff" stroke="#000" stroke-width="1.05"/>
<circle cx="326.3" cy="205" r="1.5" fill="#fff" stroke="#000" stroke-width="1.05"/>
<circle cx="329.9" cy="200.7" r="1.5" fill="#fff" stroke="#000" stroke-width="1.05"/>
<circle cx="336.2" cy="200.7" r="1.5" fill="#fff" stroke="#000" stroke-width="1.05"/>
<line x1="229" y1="141.4" x2="229" y2="207.8" stroke="#000" stroke-width="1.2"/>
<line x1="226.4" y1="207.2" x2="229" y2="207.2" stroke="#000" stroke-width="1"/>
<text transform="translate(225.8 207.7) scale(1 1.1)" font-size="7.4" text-anchor="end" font-weight="normal" fill="#000" dominant-baseline="central">0</text>
<line x1="226.4" y1="190.88" x2="229" y2="190.88" stroke="#000" stroke-width="1"/>
<text transform="translate(225.8 191.38) scale(1 1.1)" font-size="7.4" text-anchor="end" font-weight="normal" fill="#000" dominant-baseline="central">20</text>
<line x1="226.4" y1="174.55" x2="229" y2="174.55" stroke="#000" stroke-width="1"/>
<text transform="translate(225.8 175.05) scale(1 1.1)" font-size="7.4" text-anchor="end" font-weight="normal" fill="#000" dominant-baseline="central">40</text>
<line x1="226.4" y1="158.22" x2="229" y2="158.22" stroke="#000" stroke-width="1"/>
<text transform="translate(225.8 158.72) scale(1 1.1)" font-size="7.4" text-anchor="end" font-weight="normal" fill="#000" dominant-baseline="central">60</text>
<line x1="226.4" y1="141.9" x2="229" y2="141.9" stroke="#000" stroke-width="1"/>
<text transform="translate(225.8 142.4) scale(1 1.1)" font-size="7.4" text-anchor="end" font-weight="normal" fill="#000" dominant-baseline="central">80</text>
<line x1="239.2" y1="218.2" x2="257.7" y2="218.2" stroke="#000" stroke-width="1.2"/>
<line x1="239.2" y1="217.4" x2="239.2" y2="220.8" stroke="#000" stroke-width="1.2"/>
<line x1="257.7" y1="217.4" x2="257.7" y2="220.8" stroke="#000" stroke-width="1.2"/>
<line x1="245.4" y1="218.2" x2="245.4" y2="220.1" stroke="#000" stroke-width="1"/>
<line x1="251.5" y1="218.2" x2="251.5" y2="220.1" stroke="#000" stroke-width="1"/>
<line x1="263.7" y1="218.2" x2="309.3" y2="218.2" stroke="#000" stroke-width="1.2"/>
<line x1="263.7" y1="217.4" x2="263.7" y2="220.8" stroke="#000" stroke-width="1.2"/>
<line x1="309.3" y1="217.4" x2="309.3" y2="220.8" stroke="#000" stroke-width="1.2"/>
<line x1="274.2" y1="218.2" x2="274.2" y2="220.1" stroke="#000" stroke-width="1"/>
<line x1="297.7" y1="218.2" x2="297.7" y2="220.1" stroke="#000" stroke-width="1"/>
<line x1="286" y1="218.2" x2="286" y2="220.6" stroke="#000" stroke-width="1.2"/>
<line x1="315.5" y1="218.2" x2="342.9" y2="218.2" stroke="#000" stroke-width="1.2"/>
<line x1="315.5" y1="217.4" x2="315.5" y2="220.8" stroke="#000" stroke-width="1.2"/>
<line x1="342.9" y1="217.4" x2="342.9" y2="220.8" stroke="#000" stroke-width="1.2"/>
<line x1="329.3" y1="218.2" x2="329.3" y2="220.4" stroke="#000" stroke-width="1"/>
<text transform="translate(239.6 225.8) scale(1 1.1)" font-size="7.4" text-anchor="middle" font-weight="normal" fill="#000" dominant-baseline="central">0</text>
<text transform="translate(257.5 225.8) scale(1 1.1)" font-size="7.4" text-anchor="middle" font-weight="normal" fill="#000" dominant-baseline="central">21</text>
<text transform="translate(286 225.8) scale(1 1.1)" font-size="7.4" text-anchor="middle" font-weight="normal" fill="#000" dominant-baseline="central">400</text>
<text transform="translate(309 225.8) scale(1 1.1)" font-size="7.4" text-anchor="middle" font-weight="normal" fill="#000" dominant-baseline="central">800</text>
<text transform="translate(329.2 225.8) scale(1 1.1)" font-size="7.4" text-anchor="middle" font-weight="normal" fill="#000" dominant-baseline="central">840</text>
<text transform="translate(342.6 225.8) scale(1 1.1)" font-size="7.4" text-anchor="middle" font-weight="normal" fill="#000" dominant-baseline="central">880</text>
<text transform="translate(291.6 237.5) scale(1 1.1)" font-size="7.38" text-anchor="middle" font-weight="normal" fill="#000" dominant-baseline="central">Time (days after vector admin)</text>
<text transform="translate(203.8 170.9) rotate(-90) scale(1 1.1)" font-size="7.2" text-anchor="middle" font-weight="normal" fill="#000" dominant-baseline="central" style="stroke-width:0.34px">IL-6 (pg/mL)</text>
<text x="198.6" y="138.5" font-size="11.5" font-weight="bold" fill="#000" style="stroke-width:0.15px">E</text>
<rect x="401.5" y="205.6" width="112" height="1.9" fill="#d8d8d8"/>
<text transform="translate(452.4 136.8) scale(1 1.1)" font-size="4.65" text-anchor="middle" font-weight="normal" fill="#000" dominant-baseline="central" style="stroke-width:0.3px">Wick challenge</text>
<text transform="translate(499 136.8) scale(1 1.1)" font-size="4.65" text-anchor="middle" font-weight="normal" fill="#000" dominant-baseline="central" style="stroke-width:0.3px">Trex &amp; Wiley</text>
<text transform="translate(498.6 142.6) scale(1 1.1)" font-size="4.65" text-anchor="middle" font-weight="normal" fill="#000" dominant-baseline="central" style="stroke-width:0.3px">challenge</text>
<line x1="453.5" y1="140.6" x2="453.5" y2="149" stroke="#000" stroke-width="1.3"/>
<polygon points="451.75,147.8 455.25,147.8 453.5,152" fill="#000"/>
<line x1="498.5" y1="146.6" x2="498.5" y2="155" stroke="#000" stroke-width="1.3"/>
<polygon points="496.75,153.8 500.25,153.8 498.5,158" fill="#000"/>
<line x1="453.5" y1="152" x2="453.5" y2="218" stroke="#000" stroke-width="1" stroke-dasharray="1 1"/>
<line x1="498.5" y1="158" x2="498.5" y2="218" stroke="#000" stroke-width="1" stroke-dasharray="1 1"/>
<polyline points="411.1,207.3 414,163.3 417.1,199.2 421.5,205.5 427.8,203.7 435.9,207.3 438.6,148.1 471.5,203.2 479.2,200.1 498.1,205.5 506.2,202" fill="none" stroke="#666666" stroke-width="1.4" stroke-linejoin="round"/>
<circle cx="411.1" cy="207.3" r="1.5" fill="#666666" stroke="none" stroke-width="0"/>
<circle cx="414" cy="163.3" r="1.5" fill="#666666" stroke="none" stroke-width="0"/>
<circle cx="417.1" cy="199.2" r="1.5" fill="#666666" stroke="none" stroke-width="0"/>
<circle cx="421.5" cy="205.5" r="1.5" fill="#666666" stroke="none" stroke-width="0"/>
<circle cx="427.8" cy="203.7" r="1.5" fill="#666666" stroke="none" stroke-width="0"/>
<circle cx="435.9" cy="207.3" r="1.5" fill="#666666" stroke="none" stroke-width="0"/>
<circle cx="438.6" cy="148.1" r="1.5" fill="#666666" stroke="none" stroke-width="0"/>
<circle cx="471.5" cy="203.2" r="1.5" fill="#666666" stroke="none" stroke-width="0"/>
<circle cx="479.2" cy="200.1" r="1.5" fill="#666666" stroke="none" stroke-width="0"/>
<circle cx="498.1" cy="205.5" r="1.5" fill="#666666" stroke="none" stroke-width="0"/>
<circle cx="506.2" cy="202" r="1.5" fill="#666666" stroke="none" stroke-width="0"/>
<polyline points="411.1,207.6 421.9,207.6 437.7,207.6 449.4,207.6 453.9,207.6 453.9,204.6" fill="none" stroke="#000" stroke-width="1.35" stroke-linejoin="round"/>
<circle cx="411.1" cy="207.6" r="1.55" fill="#000" stroke="none" stroke-width="0"/>
<circle cx="421.9" cy="207.6" r="1.55" fill="#000" stroke="none" stroke-width="0"/>
<circle cx="437.7" cy="207.6" r="1.55" fill="#000" stroke="none" stroke-width="0"/>
<circle cx="449.4" cy="207.6" r="1.55" fill="#000" stroke="none" stroke-width="0"/>
<circle cx="453.9" cy="207.6" r="1.55" fill="#000" stroke="none" stroke-width="0"/>
<circle cx="453.9" cy="204.6" r="1.55" fill="#000" stroke="none" stroke-width="0"/>
<polyline points="410.8,160.1 412.9,202.8 417.1,145.4 423.3,173.8 424.8,172.3 435.9,148.1 436.8,165.1 460,165.1 472.1,197.1 480.1,199.6 498.1,200.7 501.3,200.7 507.1,201.4" fill="none" stroke="#000" stroke-width="1.3" stroke-linejoin="round" stroke-dasharray="3.2 1.8"/>
<circle cx="410.8" cy="160.1" r="1.5" fill="#fff" stroke="#000" stroke-width="1.05"/>
<circle cx="412.9" cy="202.8" r="1.5" fill="#fff" stroke="#000" stroke-width="1.05"/>
<circle cx="417.1" cy="145.4" r="1.5" fill="#fff" stroke="#000" stroke-width="1.05"/>
<circle cx="423.3" cy="173.8" r="1.5" fill="#fff" stroke="#000" stroke-width="1.05"/>
<circle cx="424.8" cy="172.3" r="1.5" fill="#fff" stroke="#000" stroke-width="1.05"/>
<circle cx="435.9" cy="148.1" r="1.5" fill="#fff" stroke="#000" stroke-width="1.05"/>
<circle cx="436.8" cy="165.1" r="1.5" fill="#fff" stroke="#000" stroke-width="1.05"/>
<circle cx="460" cy="165.1" r="1.5" fill="#fff" stroke="#000" stroke-width="1.05"/>
<circle cx="472.1" cy="197.1" r="1.5" fill="#fff" stroke="#000" stroke-width="1.05"/>
<circle cx="480.1" cy="199.6" r="1.5" fill="#fff" stroke="#000" stroke-width="1.05"/>
<circle cx="498.1" cy="200.7" r="1.5" fill="#fff" stroke="#000" stroke-width="1.05"/>
<circle cx="501.3" cy="200.7" r="1.5" fill="#fff" stroke="#000" stroke-width="1.05"/>
<circle cx="507.1" cy="201.4" r="1.5" fill="#fff" stroke="#000" stroke-width="1.05"/>
<line x1="400.5" y1="141.3" x2="400.5" y2="208" stroke="#000" stroke-width="1.2"/>
<line x1="397.9" y1="207.4" x2="400.5" y2="207.4" stroke="#000" stroke-width="1"/>
<text transform="translate(397.3 207.9) scale(1 1.1)" font-size="7.4" text-anchor="end" font-weight="normal" fill="#000" dominant-baseline="central">0</text>
<line x1="397.9" y1="191" x2="400.5" y2="191" stroke="#000" stroke-width="1"/>
<text transform="translate(397.3 191.5) scale(1 1.1)" font-size="7.4" text-anchor="end" font-weight="normal" fill="#000" dominant-baseline="central">100</text>
<line x1="397.9" y1="174.6" x2="400.5" y2="174.6" stroke="#000" stroke-width="1"/>
<text transform="translate(397.3 175.1) scale(1 1.1)" font-size="7.4" text-anchor="end" font-weight="normal" fill="#000" dominant-baseline="central">200</text>
<line x1="397.9" y1="158.2" x2="400.5" y2="158.2" stroke="#000" stroke-width="1"/>
<text transform="translate(397.3 158.7) scale(1 1.1)" font-size="7.4" text-anchor="end" font-weight="normal" fill="#000" dominant-baseline="central">300</text>
<line x1="397.9" y1="141.8" x2="400.5" y2="141.8" stroke="#000" stroke-width="1"/>
<text transform="translate(397.3 142.3) scale(1 1.1)" font-size="7.4" text-anchor="end" font-weight="normal" fill="#000" dominant-baseline="central">400</text>
<line x1="410.4" y1="218.2" x2="428.9" y2="218.2" stroke="#000" stroke-width="1.2"/>
<line x1="410.4" y1="217.4" x2="410.4" y2="220.8" stroke="#000" stroke-width="1.2"/>
<line x1="428.9" y1="217.4" x2="428.9" y2="220.8" stroke="#000" stroke-width="1.2"/>
<line x1="416.6" y1="218.2" x2="416.6" y2="220.1" stroke="#000" stroke-width="1"/>
<line x1="422.7" y1="218.2" x2="422.7" y2="220.1" stroke="#000" stroke-width="1"/>
<line x1="434.9" y1="218.2" x2="480.5" y2="218.2" stroke="#000" stroke-width="1.2"/>
<line x1="434.9" y1="217.4" x2="434.9" y2="220.8" stroke="#000" stroke-width="1.2"/>
<line x1="480.5" y1="217.4" x2="480.5" y2="220.8" stroke="#000" stroke-width="1.2"/>
<line x1="445.4" y1="218.2" x2="445.4" y2="220.1" stroke="#000" stroke-width="1"/>
<line x1="468.9" y1="218.2" x2="468.9" y2="220.1" stroke="#000" stroke-width="1"/>
<line x1="457.2" y1="218.2" x2="457.2" y2="220.6" stroke="#000" stroke-width="1.2"/>
<line x1="486.7" y1="218.2" x2="514.1" y2="218.2" stroke="#000" stroke-width="1.2"/>
<line x1="486.7" y1="217.4" x2="486.7" y2="220.8" stroke="#000" stroke-width="1.2"/>
<line x1="514.1" y1="217.4" x2="514.1" y2="220.8" stroke="#000" stroke-width="1.2"/>
<line x1="500.5" y1="218.2" x2="500.5" y2="220.4" stroke="#000" stroke-width="1"/>
<text transform="translate(410.8 225.8) scale(1 1.1)" font-size="7.4" text-anchor="middle" font-weight="normal" fill="#000" dominant-baseline="central">0</text>
<text transform="translate(428.7 225.8) scale(1 1.1)" font-size="7.4" text-anchor="middle" font-weight="normal" fill="#000" dominant-baseline="central">21</text>
<text transform="translate(457.2 225.8) scale(1 1.1)" font-size="7.4" text-anchor="middle" font-weight="normal" fill="#000" dominant-baseline="central">400</text>
<text transform="translate(480.2 225.8) scale(1 1.1)" font-size="7.4" text-anchor="middle" font-weight="normal" fill="#000" dominant-baseline="central">800</text>
<text transform="translate(500.4 225.8) scale(1 1.1)" font-size="7.4" text-anchor="middle" font-weight="normal" fill="#000" dominant-baseline="central">840</text>
<text transform="translate(513.8 225.8) scale(1 1.1)" font-size="7.4" text-anchor="middle" font-weight="normal" fill="#000" dominant-baseline="central">880</text>
<text transform="translate(462.8 237.5) scale(1 1.1)" font-size="7.38" text-anchor="middle" font-weight="normal" fill="#000" dominant-baseline="central">Time (days after vector admin)</text>
<text transform="translate(375.5 170.6) rotate(-90) scale(1 1.1)" font-size="7.2" text-anchor="middle" font-weight="normal" fill="#000" dominant-baseline="central" style="stroke-width:0.34px">IL-18 (pg/mL)</text>
<text x="370.3" y="138.5" font-size="11.5" font-weight="bold" fill="#000" style="stroke-width:0.15px">F</text>
<rect x="30.2" y="320" width="112" height="10.8" fill="#d3d3d3"/>
<text transform="translate(80.4 258.7) scale(1 1.1)" font-size="4.65" text-anchor="middle" font-weight="normal" fill="#000" dominant-baseline="central" style="stroke-width:0.3px">Wick challenge</text>
<text transform="translate(126.4 258.7) scale(1 1.1)" font-size="4.65" text-anchor="middle" font-weight="normal" fill="#000" dominant-baseline="central" style="stroke-width:0.3px">Trex &amp; Wiley</text>
<text transform="translate(126 264.5) scale(1 1.1)" font-size="4.65" text-anchor="middle" font-weight="normal" fill="#000" dominant-baseline="central" style="stroke-width:0.3px">challenge</text>
<line x1="81.5" y1="263" x2="81.5" y2="271.2" stroke="#000" stroke-width="1.3"/>
<polygon points="79.75,270 83.25,270 81.5,274.2" fill="#000"/>
<line x1="125.5" y1="269.4" x2="125.5" y2="277.3" stroke="#000" stroke-width="1.3"/>
<polygon points="123.75,276.1 127.25,276.1 125.5,280.3" fill="#000"/>
<line x1="81.5" y1="274" x2="81.5" y2="340" stroke="#000" stroke-width="1" stroke-dasharray="1 1"/>
<line x1="125.5" y1="280" x2="125.5" y2="340" stroke="#000" stroke-width="1" stroke-dasharray="1 1"/>
<polyline points="39.6,329.5 42,305.8 43.9,329.5 50,330 56,324.5 60.7,328.2 67.3,324.5 88,327.7 100.3,330.1 107.8,330.1 126.1,330.1 132.5,330.1 135.8,317.9" fill="none" stroke="#666666" stroke-width="1.4" stroke-linejoin="round"/>
<circle cx="39.6" cy="329.5" r="1.5" fill="#666666" stroke="none" stroke-width="0"/>
<circle cx="42" cy="305.8" r="1.5" fill="#666666" stroke="none" stroke-width="0"/>
<circle cx="43.9" cy="329.5" r="1.5" fill="#666666" stroke="none" stroke-width="0"/>
<circle cx="50" cy="330" r="1.5" fill="#666666" stroke="none" stroke-width="0"/>
<circle cx="56" cy="324.5" r="1.5" fill="#666666" stroke="none" stroke-width="0"/>
<circle cx="60.7" cy="328.2" r="1.5" fill="#666666" stroke="none" stroke-width="0"/>
<circle cx="67.3" cy="324.5" r="1.5" fill="#666666" stroke="none" stroke-width="0"/>
<circle cx="88" cy="327.7" r="1.5" fill="#666666" stroke="none" stroke-width="0"/>
<circle cx="100.3" cy="330.1" r="1.5" fill="#666666" stroke="none" stroke-width="0"/>
<circle cx="107.8" cy="330.1" r="1.5" fill="#666666" stroke="none" stroke-width="0"/>
<circle cx="126.1" cy="330.1" r="1.5" fill="#666666" stroke="none" stroke-width="0"/>
<circle cx="132.5" cy="330.1" r="1.5" fill="#666666" stroke="none" stroke-width="0"/>
<circle cx="135.8" cy="317.9" r="1.5" fill="#666666" stroke="none" stroke-width="0"/>
<polyline points="40.7,330.1 50,330.1 56,330.1 65.4,330.1 67.3,330.1 76.6,330.1 81.8,330.1" fill="none" stroke="#000" stroke-width="1.35" stroke-linejoin="round"/>
<circle cx="40.7" cy="330.1" r="1.55" fill="#000" stroke="none" stroke-width="0"/>
<circle cx="50" cy="330.1" r="1.55" fill="#000" stroke="none" stroke-width="0"/>
<circle cx="56" cy="330.1" r="1.55" fill="#000" stroke="none" stroke-width="0"/>
<circle cx="65.4" cy="330.1" r="1.55" fill="#000" stroke="none" stroke-width="0"/>
<circle cx="67.3" cy="330.1" r="1.55" fill="#000" stroke="none" stroke-width="0"/>
<circle cx="76.6" cy="330.1" r="1.55" fill="#000" stroke="none" stroke-width="0"/>
<circle cx="81.8" cy="330.1" r="1.55" fill="#000" stroke="none" stroke-width="0"/>
<polyline points="39.2,293.3 40.7,329.5 45.2,297.8 51.4,293.3 53.8,279.6 63.9,283.4 65,298.3 87.8,284.7 100.3,318.3 107.8,310.1 126.1,320.2 129.5,316.4 135.5,299.6" fill="none" stroke="#000" stroke-width="1.3" stroke-linejoin="round" stroke-dasharray="3.2 1.8"/>
<circle cx="39.2" cy="293.3" r="1.5" fill="#fff" stroke="#000" stroke-width="1.05"/>
<circle cx="40.7" cy="329.5" r="1.5" fill="#fff" stroke="#000" stroke-width="1.05"/>
<circle cx="45.2" cy="297.8" r="1.5" fill="#fff" stroke="#000" stroke-width="1.05"/>
<circle cx="51.4" cy="293.3" r="1.5" fill="#fff" stroke="#000" stroke-width="1.05"/>
<circle cx="53.8" cy="279.6" r="1.5" fill="#fff" stroke="#000" stroke-width="1.05"/>
<circle cx="63.9" cy="283.4" r="1.5" fill="#fff" stroke="#000" stroke-width="1.05"/>
<circle cx="65" cy="298.3" r="1.5" fill="#fff" stroke="#000" stroke-width="1.05"/>
<circle cx="87.8" cy="284.7" r="1.5" fill="#fff" stroke="#000" stroke-width="1.05"/>
<circle cx="100.3" cy="318.3" r="1.5" fill="#fff" stroke="#000" stroke-width="1.05"/>
<circle cx="107.8" cy="310.1" r="1.5" fill="#fff" stroke="#000" stroke-width="1.05"/>
<circle cx="126.1" cy="320.2" r="1.5" fill="#fff" stroke="#000" stroke-width="1.05"/>
<circle cx="129.5" cy="316.4" r="1.5" fill="#fff" stroke="#000" stroke-width="1.05"/>
<circle cx="135.5" cy="299.6" r="1.5" fill="#fff" stroke="#000" stroke-width="1.05"/>
<line x1="28.5" y1="264" x2="28.5" y2="331.1" stroke="#000" stroke-width="1.2"/>
<line x1="25.9" y1="330.5" x2="28.5" y2="330.5" stroke="#000" stroke-width="1"/>
<text transform="translate(25.3 331) scale(1 1.1)" font-size="7.4" text-anchor="end" font-weight="normal" fill="#000" dominant-baseline="central">0</text>
<line x1="25.9" y1="314" x2="28.5" y2="314" stroke="#000" stroke-width="1"/>
<text transform="translate(25.3 314.5) scale(1 1.1)" font-size="7.4" text-anchor="end" font-weight="normal" fill="#000" dominant-baseline="central">20</text>
<line x1="25.9" y1="297.5" x2="28.5" y2="297.5" stroke="#000" stroke-width="1"/>
<text transform="translate(25.3 298) scale(1 1.1)" font-size="7.4" text-anchor="end" font-weight="normal" fill="#000" dominant-baseline="central">40</text>
<line x1="25.9" y1="281" x2="28.5" y2="281" stroke="#000" stroke-width="1"/>
<text transform="translate(25.3 281.5) scale(1 1.1)" font-size="7.4" text-anchor="end" font-weight="normal" fill="#000" dominant-baseline="central">60</text>
<line x1="25.9" y1="264.5" x2="28.5" y2="264.5" stroke="#000" stroke-width="1"/>
<text transform="translate(25.3 265) scale(1 1.1)" font-size="7.4" text-anchor="end" font-weight="normal" fill="#000" dominant-baseline="central">80</text>
<line x1="39" y1="340.7" x2="57.5" y2="340.7" stroke="#000" stroke-width="1.2"/>
<line x1="39" y1="339.9" x2="39" y2="343.3" stroke="#000" stroke-width="1.2"/>
<line x1="57.5" y1="339.9" x2="57.5" y2="343.3" stroke="#000" stroke-width="1.2"/>
<line x1="45.2" y1="340.7" x2="45.2" y2="342.6" stroke="#000" stroke-width="1"/>
<line x1="51.3" y1="340.7" x2="51.3" y2="342.6" stroke="#000" stroke-width="1"/>
<line x1="63.5" y1="340.7" x2="109.1" y2="340.7" stroke="#000" stroke-width="1.2"/>
<line x1="63.5" y1="339.9" x2="63.5" y2="343.3" stroke="#000" stroke-width="1.2"/>
<line x1="109.1" y1="339.9" x2="109.1" y2="343.3" stroke="#000" stroke-width="1.2"/>
<line x1="74" y1="340.7" x2="74" y2="342.6" stroke="#000" stroke-width="1"/>
<line x1="97.5" y1="340.7" x2="97.5" y2="342.6" stroke="#000" stroke-width="1"/>
<line x1="85.8" y1="340.7" x2="85.8" y2="343.1" stroke="#000" stroke-width="1.2"/>
<line x1="115.3" y1="340.7" x2="142.7" y2="340.7" stroke="#000" stroke-width="1.2"/>
<line x1="115.3" y1="339.9" x2="115.3" y2="343.3" stroke="#000" stroke-width="1.2"/>
<line x1="142.7" y1="339.9" x2="142.7" y2="343.3" stroke="#000" stroke-width="1.2"/>
<line x1="129.1" y1="340.7" x2="129.1" y2="342.9" stroke="#000" stroke-width="1"/>
<text transform="translate(39.4 348.3) scale(1 1.1)" font-size="7.4" text-anchor="middle" font-weight="normal" fill="#000" dominant-baseline="central">0</text>
<text transform="translate(57.3 348.3) scale(1 1.1)" font-size="7.4" text-anchor="middle" font-weight="normal" fill="#000" dominant-baseline="central">21</text>
<text transform="translate(85.8 348.3) scale(1 1.1)" font-size="7.4" text-anchor="middle" font-weight="normal" fill="#000" dominant-baseline="central">400</text>
<text transform="translate(108.8 348.3) scale(1 1.1)" font-size="7.4" text-anchor="middle" font-weight="normal" fill="#000" dominant-baseline="central">800</text>
<text transform="translate(129 348.3) scale(1 1.1)" font-size="7.4" text-anchor="middle" font-weight="normal" fill="#000" dominant-baseline="central">840</text>
<text transform="translate(142.4 348.3) scale(1 1.1)" font-size="7.4" text-anchor="middle" font-weight="normal" fill="#000" dominant-baseline="central">880</text>
<text transform="translate(91.4 360) scale(1 1.1)" font-size="7.38" text-anchor="middle" font-weight="normal" fill="#000" dominant-baseline="central">Time (days after vector admin)</text>
<text transform="translate(3 295.2) rotate(-90) scale(1 1.1)" font-size="7.2" text-anchor="middle" font-weight="normal" fill="#000" dominant-baseline="central" style="stroke-width:0.34px">IL-10 (pg/mL)</text>
<text x="-0.6" y="265.2" font-size="11.5" font-weight="bold" fill="#000" style="stroke-width:0.15px">G</text>
<rect x="230.6" y="328" width="112.2" height="13.5" fill="#d3d3d3"/>
<text transform="translate(281.5 271.2) scale(1 1.1)" font-size="4.65" text-anchor="middle" font-weight="normal" fill="#000" dominant-baseline="central" style="stroke-width:0.3px">Wick challenge</text>
<text transform="translate(326.8 271.2) scale(1 1.1)" font-size="4.65" text-anchor="middle" font-weight="normal" fill="#000" dominant-baseline="central" style="stroke-width:0.3px">Trex &amp; Wiley</text>
<text transform="translate(326.4 277) scale(1 1.1)" font-size="4.65" text-anchor="middle" font-weight="normal" fill="#000" dominant-baseline="central" style="stroke-width:0.3px">challenge</text>
<line x1="282.5" y1="275" x2="282.5" y2="283.2" stroke="#000" stroke-width="1.3"/>
<polygon points="280.75,282 284.25,282 282.5,286.2" fill="#000"/>
<line x1="325.5" y1="281" x2="325.5" y2="289.8" stroke="#000" stroke-width="1.3"/>
<polygon points="323.75,288.6 327.25,288.6 325.5,292.8" fill="#000"/>
<line x1="282.5" y1="286" x2="282.5" y2="353" stroke="#000" stroke-width="1" stroke-dasharray="1 1"/>
<line x1="325.5" y1="292" x2="325.5" y2="353" stroke="#000" stroke-width="1" stroke-dasharray="1 1"/>
<polyline points="239,341 253.5,341 265.5,341 277.8,341 300.5,341 308.5,341 325.8,341 336.4,341" fill="none" stroke="#666666" stroke-width="1.4" stroke-linejoin="round"/>
<circle cx="239" cy="341" r="1.5" fill="#666666" stroke="none" stroke-width="0"/>
<circle cx="253.5" cy="341" r="1.5" fill="#666666" stroke="none" stroke-width="0"/>
<circle cx="265.5" cy="341" r="1.5" fill="#666666" stroke="none" stroke-width="0"/>
<circle cx="277.8" cy="341" r="1.5" fill="#666666" stroke="none" stroke-width="0"/>
<circle cx="300.5" cy="341" r="1.5" fill="#666666" stroke="none" stroke-width="0"/>
<circle cx="308.5" cy="341" r="1.5" fill="#666666" stroke="none" stroke-width="0"/>
<circle cx="325.8" cy="341" r="1.5" fill="#666666" stroke="none" stroke-width="0"/>
<circle cx="336.4" cy="341" r="1.5" fill="#666666" stroke="none" stroke-width="0"/>
<polyline points="239.3,341 252.1,341 266.5,341 277.6,341 283.1,341" fill="none" stroke="#000" stroke-width="1.35" stroke-linejoin="round"/>
<circle cx="239.3" cy="341" r="1.55" fill="#000" stroke="none" stroke-width="0"/>
<circle cx="252.1" cy="341" r="1.55" fill="#000" stroke="none" stroke-width="0"/>
<circle cx="266.5" cy="341" r="1.55" fill="#000" stroke="none" stroke-width="0"/>
<circle cx="277.6" cy="341" r="1.55" fill="#000" stroke="none" stroke-width="0"/>
<circle cx="283.1" cy="341" r="1.55" fill="#000" stroke="none" stroke-width="0"/>
<polyline points="239.3,341.1 242.2,341.1 245,341.1 252.1,341.1 264.3,288.5 265.4,338.7 277.6,341.1 288.6,341.1 300.4,341.1 308.5,341.1 326.9,341.1 330.7,341.1 336.2,341.1" fill="none" stroke="#000" stroke-width="1.3" stroke-linejoin="round" stroke-dasharray="3.2 1.8"/>
<circle cx="239.3" cy="341.1" r="1.5" fill="#fff" stroke="#000" stroke-width="1.05"/>
<circle cx="242.2" cy="341.1" r="1.5" fill="#fff" stroke="#000" stroke-width="1.05"/>
<circle cx="245" cy="341.1" r="1.5" fill="#fff" stroke="#000" stroke-width="1.05"/>
<circle cx="252.1" cy="341.1" r="1.5" fill="#fff" stroke="#000" stroke-width="1.05"/>
<circle cx="264.3" cy="288.5" r="1.5" fill="#fff" stroke="#000" stroke-width="1.05"/>
<circle cx="265.4" cy="338.7" r="1.5" fill="#fff" stroke="#000" stroke-width="1.05"/>
<circle cx="288.6" cy="341.1" r="1.5" fill="#fff" stroke="#000" stroke-width="1.05"/>
<circle cx="300.4" cy="341.1" r="1.5" fill="#fff" stroke="#000" stroke-width="1.05"/>
<circle cx="308.5" cy="341.1" r="1.5" fill="#fff" stroke="#000" stroke-width="1.05"/>
<circle cx="326.9" cy="341.1" r="1.5" fill="#fff" stroke="#000" stroke-width="1.05"/>
<circle cx="330.7" cy="341.1" r="1.5" fill="#fff" stroke="#000" stroke-width="1.05"/>
<circle cx="336.2" cy="341.1" r="1.5" fill="#fff" stroke="#000" stroke-width="1.05"/>
<line x1="229" y1="276.9" x2="229" y2="341.9" stroke="#000" stroke-width="1.2"/>
<line x1="226.4" y1="341.3" x2="229" y2="341.3" stroke="#000" stroke-width="1"/>
<text transform="translate(225.8 341.8) scale(1 1.1)" font-size="7.4" text-anchor="end" font-weight="normal" fill="#000" dominant-baseline="central">0</text>
<line x1="226.4" y1="320" x2="229" y2="320" stroke="#000" stroke-width="1"/>
<text transform="translate(225.8 320.5) scale(1 1.1)" font-size="7.4" text-anchor="end" font-weight="normal" fill="#000" dominant-baseline="central">20</text>
<line x1="226.4" y1="298.7" x2="229" y2="298.7" stroke="#000" stroke-width="1"/>
<text transform="translate(225.8 299.2) scale(1 1.1)" font-size="7.4" text-anchor="end" font-weight="normal" fill="#000" dominant-baseline="central">40</text>
<line x1="226.4" y1="277.4" x2="229" y2="277.4" stroke="#000" stroke-width="1"/>
<text transform="translate(225.8 277.9) scale(1 1.1)" font-size="7.4" text-anchor="end" font-weight="normal" fill="#000" dominant-baseline="central">60</text>
<line x1="239.2" y1="353.2" x2="257.7" y2="353.2" stroke="#000" stroke-width="1.2"/>
<line x1="239.2" y1="352.4" x2="239.2" y2="355.8" stroke="#000" stroke-width="1.2"/>
<line x1="257.7" y1="352.4" x2="257.7" y2="355.8" stroke="#000" stroke-width="1.2"/>
<line x1="245.4" y1="353.2" x2="245.4" y2="355.1" stroke="#000" stroke-width="1"/>
<line x1="251.5" y1="353.2" x2="251.5" y2="355.1" stroke="#000" stroke-width="1"/>
<line x1="263.7" y1="353.2" x2="309.3" y2="353.2" stroke="#000" stroke-width="1.2"/>
<line x1="263.7" y1="352.4" x2="263.7" y2="355.8" stroke="#000" stroke-width="1.2"/>
<line x1="309.3" y1="352.4" x2="309.3" y2="355.8" stroke="#000" stroke-width="1.2"/>
<line x1="274.2" y1="353.2" x2="274.2" y2="355.1" stroke="#000" stroke-width="1"/>
<line x1="297.7" y1="353.2" x2="297.7" y2="355.1" stroke="#000" stroke-width="1"/>
<line x1="286" y1="353.2" x2="286" y2="355.6" stroke="#000" stroke-width="1.2"/>
<line x1="315.5" y1="353.2" x2="342.9" y2="353.2" stroke="#000" stroke-width="1.2"/>
<line x1="315.5" y1="352.4" x2="315.5" y2="355.8" stroke="#000" stroke-width="1.2"/>
<line x1="342.9" y1="352.4" x2="342.9" y2="355.8" stroke="#000" stroke-width="1.2"/>
<line x1="329.3" y1="353.2" x2="329.3" y2="355.4" stroke="#000" stroke-width="1"/>
<text transform="translate(239.6 360.8) scale(1 1.1)" font-size="7.4" text-anchor="middle" font-weight="normal" fill="#000" dominant-baseline="central">0</text>
<text transform="translate(257.5 360.8) scale(1 1.1)" font-size="7.4" text-anchor="middle" font-weight="normal" fill="#000" dominant-baseline="central">21</text>
<text transform="translate(286 360.8) scale(1 1.1)" font-size="7.4" text-anchor="middle" font-weight="normal" fill="#000" dominant-baseline="central">400</text>
<text transform="translate(309 360.8) scale(1 1.1)" font-size="7.4" text-anchor="middle" font-weight="normal" fill="#000" dominant-baseline="central">800</text>
<text transform="translate(329.2 360.8) scale(1 1.1)" font-size="7.4" text-anchor="middle" font-weight="normal" fill="#000" dominant-baseline="central">840</text>
<text transform="translate(342.6 360.8) scale(1 1.1)" font-size="7.4" text-anchor="middle" font-weight="normal" fill="#000" dominant-baseline="central">880</text>
<text transform="translate(291.6 372.5) scale(1 1.1)" font-size="7.38" text-anchor="middle" font-weight="normal" fill="#000" dominant-baseline="central">Time (days after vector admin)</text>
<text transform="translate(203.5 305.6) rotate(-90) scale(1 1.1)" font-size="7.2" text-anchor="middle" font-weight="normal" fill="#000" dominant-baseline="central" style="stroke-width:0.34px">IL-2 (pg/mL)</text>
<text x="198.6" y="265.4" font-size="11.5" font-weight="bold" fill="#000" style="stroke-width:0.15px">H</text>
<rect x="401.5" y="327.7" width="112.7" height="13.8" fill="#d3d3d3"/>
<text transform="translate(452.4 271.2) scale(1 1.1)" font-size="4.65" text-anchor="middle" font-weight="normal" fill="#000" dominant-baseline="central" style="stroke-width:0.3px">Wick challenge</text>
<text transform="translate(499 271.2) scale(1 1.1)" font-size="4.65" text-anchor="middle" font-weight="normal" fill="#000" dominant-baseline="central" style="stroke-width:0.3px">Trex &amp; Wiley</text>
<text transform="translate(498.6 277) scale(1 1.1)" font-size="4.65" text-anchor="middle" font-weight="normal" fill="#000" dominant-baseline="central" style="stroke-width:0.3px">challenge</text>
<line x1="453.5" y1="275" x2="453.5" y2="283.2" stroke="#000" stroke-width="1.3"/>
<polygon points="451.75,282 455.25,282 453.5,286.2" fill="#000"/>
<line x1="498.5" y1="281" x2="498.5" y2="289.8" stroke="#000" stroke-width="1.3"/>
<polygon points="496.75,288.6 500.25,288.6 498.5,292.8" fill="#000"/>
<line x1="453.5" y1="286" x2="453.5" y2="353" stroke="#000" stroke-width="1" stroke-dasharray="1 1"/>
<line x1="498.5" y1="292" x2="498.5" y2="353" stroke="#000" stroke-width="1" stroke-dasharray="1 1"/>
<polyline points="411,341.1 421,341.1 436.9,341.1 472,341.1 479.9,341.1 498.8,341.1 502.8,341.1 507.2,341.1" fill="none" stroke="#666666" stroke-width="1.4" stroke-linejoin="round"/>
<circle cx="411" cy="341.1" r="1.5" fill="#666666" stroke="none" stroke-width="0"/>
<circle cx="421" cy="341.1" r="1.5" fill="#666666" stroke="none" stroke-width="0"/>
<circle cx="436.9" cy="341.1" r="1.5" fill="#666666" stroke="none" stroke-width="0"/>
<circle cx="472" cy="341.1" r="1.5" fill="#666666" stroke="none" stroke-width="0"/>
<circle cx="479.9" cy="341.1" r="1.5" fill="#666666" stroke="none" stroke-width="0"/>
<circle cx="498.8" cy="341.1" r="1.5" fill="#666666" stroke="none" stroke-width="0"/>
<circle cx="502.8" cy="341.1" r="1.5" fill="#666666" stroke="none" stroke-width="0"/>
<circle cx="507.2" cy="341.1" r="1.5" fill="#666666" stroke="none" stroke-width="0"/>
<polyline points="410.8,329.8 416,336 421.7,341.3 436.9,341.3 448.8,341.3 453.8,341.3" fill="none" stroke="#000" stroke-width="1.35" stroke-linejoin="round"/>
<circle cx="410.8" cy="329.8" r="1.55" fill="#000" stroke="none" stroke-width="0"/>
<circle cx="416" cy="336" r="1.55" fill="#000" stroke="none" stroke-width="0"/>
<circle cx="421.7" cy="341.3" r="1.55" fill="#000" stroke="none" stroke-width="0"/>
<circle cx="436.9" cy="341.3" r="1.55" fill="#000" stroke="none" stroke-width="0"/>
<circle cx="448.8" cy="341.3" r="1.55" fill="#000" stroke="none" stroke-width="0"/>
<circle cx="453.8" cy="341.3" r="1.55" fill="#000" stroke="none" stroke-width="0"/>
<polyline points="410.8,329.8 413.2,341.5 416.6,341.5 423.9,314.6 425.4,333.7 435.5,290.5 436.8,329.8 460,329.7 471.3,314.4 480.9,314.4 497.8,329.1 500.4,297.9 507.8,297.9" fill="none" stroke="#000" stroke-width="1.3" stroke-linejoin="round" stroke-dasharray="3.2 1.8"/>
<circle cx="410.8" cy="329.8" r="1.5" fill="#fff" stroke="#000" stroke-width="1.05"/>
<circle cx="413.2" cy="341.5" r="1.5" fill="#fff" stroke="#000" stroke-width="1.05"/>
<circle cx="416.6" cy="341.5" r="1.5" fill="#fff" stroke="#000" stroke-width="1.05"/>
<circle cx="423.9" cy="314.6" r="1.5" fill="#fff" stroke="#000" stroke-width="1.05"/>
<circle cx="425.4" cy="333.7" r="1.5" fill="#fff" stroke="#000" stroke-width="1.05"/>
<circle cx="435.5" cy="290.5" r="1.5" fill="#fff" stroke="#000" stroke-width="1.05"/>
<circle cx="436.8" cy="329.8" r="1.5" fill="#fff" stroke="#000" stroke-width="1.05"/>
<circle cx="460" cy="329.7" r="1.5" fill="#fff" stroke="#000" stroke-width="1.05"/>
<circle cx="471.3" cy="314.4" r="1.5" fill="#fff" stroke="#000" stroke-width="1.05"/>
<circle cx="480.9" cy="314.4" r="1.5" fill="#fff" stroke="#000" stroke-width="1.05"/>
<circle cx="497.8" cy="329.1" r="1.5" fill="#fff" stroke="#000" stroke-width="1.05"/>
<circle cx="500.4" cy="297.9" r="1.5" fill="#fff" stroke="#000" stroke-width="1.05"/>
<circle cx="507.8" cy="297.9" r="1.5" fill="#fff" stroke="#000" stroke-width="1.05"/>
<line x1="400.5" y1="276.9" x2="400.5" y2="341.9" stroke="#000" stroke-width="1.2"/>
<line x1="397.9" y1="341.3" x2="400.5" y2="341.3" stroke="#000" stroke-width="1"/>
<text transform="translate(397.3 341.8) scale(1 1.1)" font-size="7.4" text-anchor="end" font-weight="normal" fill="#000" dominant-baseline="central">0</text>
<line x1="397.9" y1="320" x2="400.5" y2="320" stroke="#000" stroke-width="1"/>
<text transform="translate(397.3 320.5) scale(1 1.1)" font-size="7.4" text-anchor="end" font-weight="normal" fill="#000" dominant-baseline="central">20</text>
<line x1="397.9" y1="298.7" x2="400.5" y2="298.7" stroke="#000" stroke-width="1"/>
<text transform="translate(397.3 299.2) scale(1 1.1)" font-size="7.4" text-anchor="end" font-weight="normal" fill="#000" dominant-baseline="central">40</text>
<line x1="397.9" y1="277.4" x2="400.5" y2="277.4" stroke="#000" stroke-width="1"/>
<text transform="translate(397.3 277.9) scale(1 1.1)" font-size="7.4" text-anchor="end" font-weight="normal" fill="#000" dominant-baseline="central">60</text>
<line x1="410.4" y1="352.9" x2="428.9" y2="352.9" stroke="#000" stroke-width="1.2"/>
<line x1="410.4" y1="352.1" x2="410.4" y2="355.5" stroke="#000" stroke-width="1.2"/>
<line x1="428.9" y1="352.1" x2="428.9" y2="355.5" stroke="#000" stroke-width="1.2"/>
<line x1="416.6" y1="352.9" x2="416.6" y2="354.8" stroke="#000" stroke-width="1"/>
<line x1="422.7" y1="352.9" x2="422.7" y2="354.8" stroke="#000" stroke-width="1"/>
<line x1="434.9" y1="352.9" x2="480.5" y2="352.9" stroke="#000" stroke-width="1.2"/>
<line x1="434.9" y1="352.1" x2="434.9" y2="355.5" stroke="#000" stroke-width="1.2"/>
<line x1="480.5" y1="352.1" x2="480.5" y2="355.5" stroke="#000" stroke-width="1.2"/>
<line x1="445.4" y1="352.9" x2="445.4" y2="354.8" stroke="#000" stroke-width="1"/>
<line x1="468.9" y1="352.9" x2="468.9" y2="354.8" stroke="#000" stroke-width="1"/>
<line x1="457.2" y1="352.9" x2="457.2" y2="355.3" stroke="#000" stroke-width="1.2"/>
<line x1="486.7" y1="352.9" x2="514.1" y2="352.9" stroke="#000" stroke-width="1.2"/>
<line x1="486.7" y1="352.1" x2="486.7" y2="355.5" stroke="#000" stroke-width="1.2"/>
<line x1="514.1" y1="352.1" x2="514.1" y2="355.5" stroke="#000" stroke-width="1.2"/>
<line x1="500.5" y1="352.9" x2="500.5" y2="355.1" stroke="#000" stroke-width="1"/>
<text transform="translate(410.8 360.5) scale(1 1.1)" font-size="7.4" text-anchor="middle" font-weight="normal" fill="#000" dominant-baseline="central">0</text>
<text transform="translate(428.7 360.5) scale(1 1.1)" font-size="7.4" text-anchor="middle" font-weight="normal" fill="#000" dominant-baseline="central">21</text>
<text transform="translate(457.2 360.5) scale(1 1.1)" font-size="7.4" text-anchor="middle" font-weight="normal" fill="#000" dominant-baseline="central">400</text>
<text transform="translate(480.2 360.5) scale(1 1.1)" font-size="7.4" text-anchor="middle" font-weight="normal" fill="#000" dominant-baseline="central">800</text>
<text transform="translate(500.4 360.5) scale(1 1.1)" font-size="7.4" text-anchor="middle" font-weight="normal" fill="#000" dominant-baseline="central">840</text>
<text transform="translate(513.8 360.5) scale(1 1.1)" font-size="7.4" text-anchor="middle" font-weight="normal" fill="#000" dominant-baseline="central">880</text>
<text transform="translate(462.8 372.2) scale(1 1.1)" font-size="7.38" text-anchor="middle" font-weight="normal" fill="#000" dominant-baseline="central">Time (days after vector admin)</text>
<text transform="translate(375.4 304.8) rotate(-90) scale(1 1.1)" font-size="7.4" text-anchor="middle" font-weight="normal" fill="#000" dominant-baseline="central" style="stroke-width:0.34px">IFN-gamma (pg/mL)</text>
<text x="370.4" y="265.2" font-size="11.5" font-weight="bold" fill="#000" style="stroke-width:0.15px">I</text>
<line x1="155" y1="394.5" x2="175.8" y2="394.5" stroke="#000" stroke-width="2.5"/>
<circle cx="165.6" cy="394.5" r="2.6" fill="#fff" stroke="#000" stroke-width="1.55"/>
<text transform="translate(184 394.8) scale(1 1.1)" font-size="10.9" text-anchor="start" font-weight="normal" fill="#000" dominant-baseline="central">Wiley</text>
<line x1="235" y1="394.5" x2="256" y2="394.5" stroke="#5c5c5c" stroke-width="2.5"/>
<circle cx="245.5" cy="394.5" r="3.1" fill="#5c5c5c" stroke="none" stroke-width="0"/>
<text transform="translate(267.5 394.8) scale(1 1.1)" font-size="10.9" text-anchor="start" font-weight="normal" fill="#000" dominant-baseline="central">Trex</text>
<line x1="307.5" y1="394.5" x2="329.5" y2="394.5" stroke="#000" stroke-width="2.5"/>
<circle cx="318.5" cy="394.5" r="3.1" fill="#000" stroke="none" stroke-width="0"/>
<text transform="translate(340 394.8) scale(1 1.1)" font-size="10.9" text-anchor="start" font-weight="normal" fill="#000" dominant-baseline="central">Wick</text>
</svg></body></html>
